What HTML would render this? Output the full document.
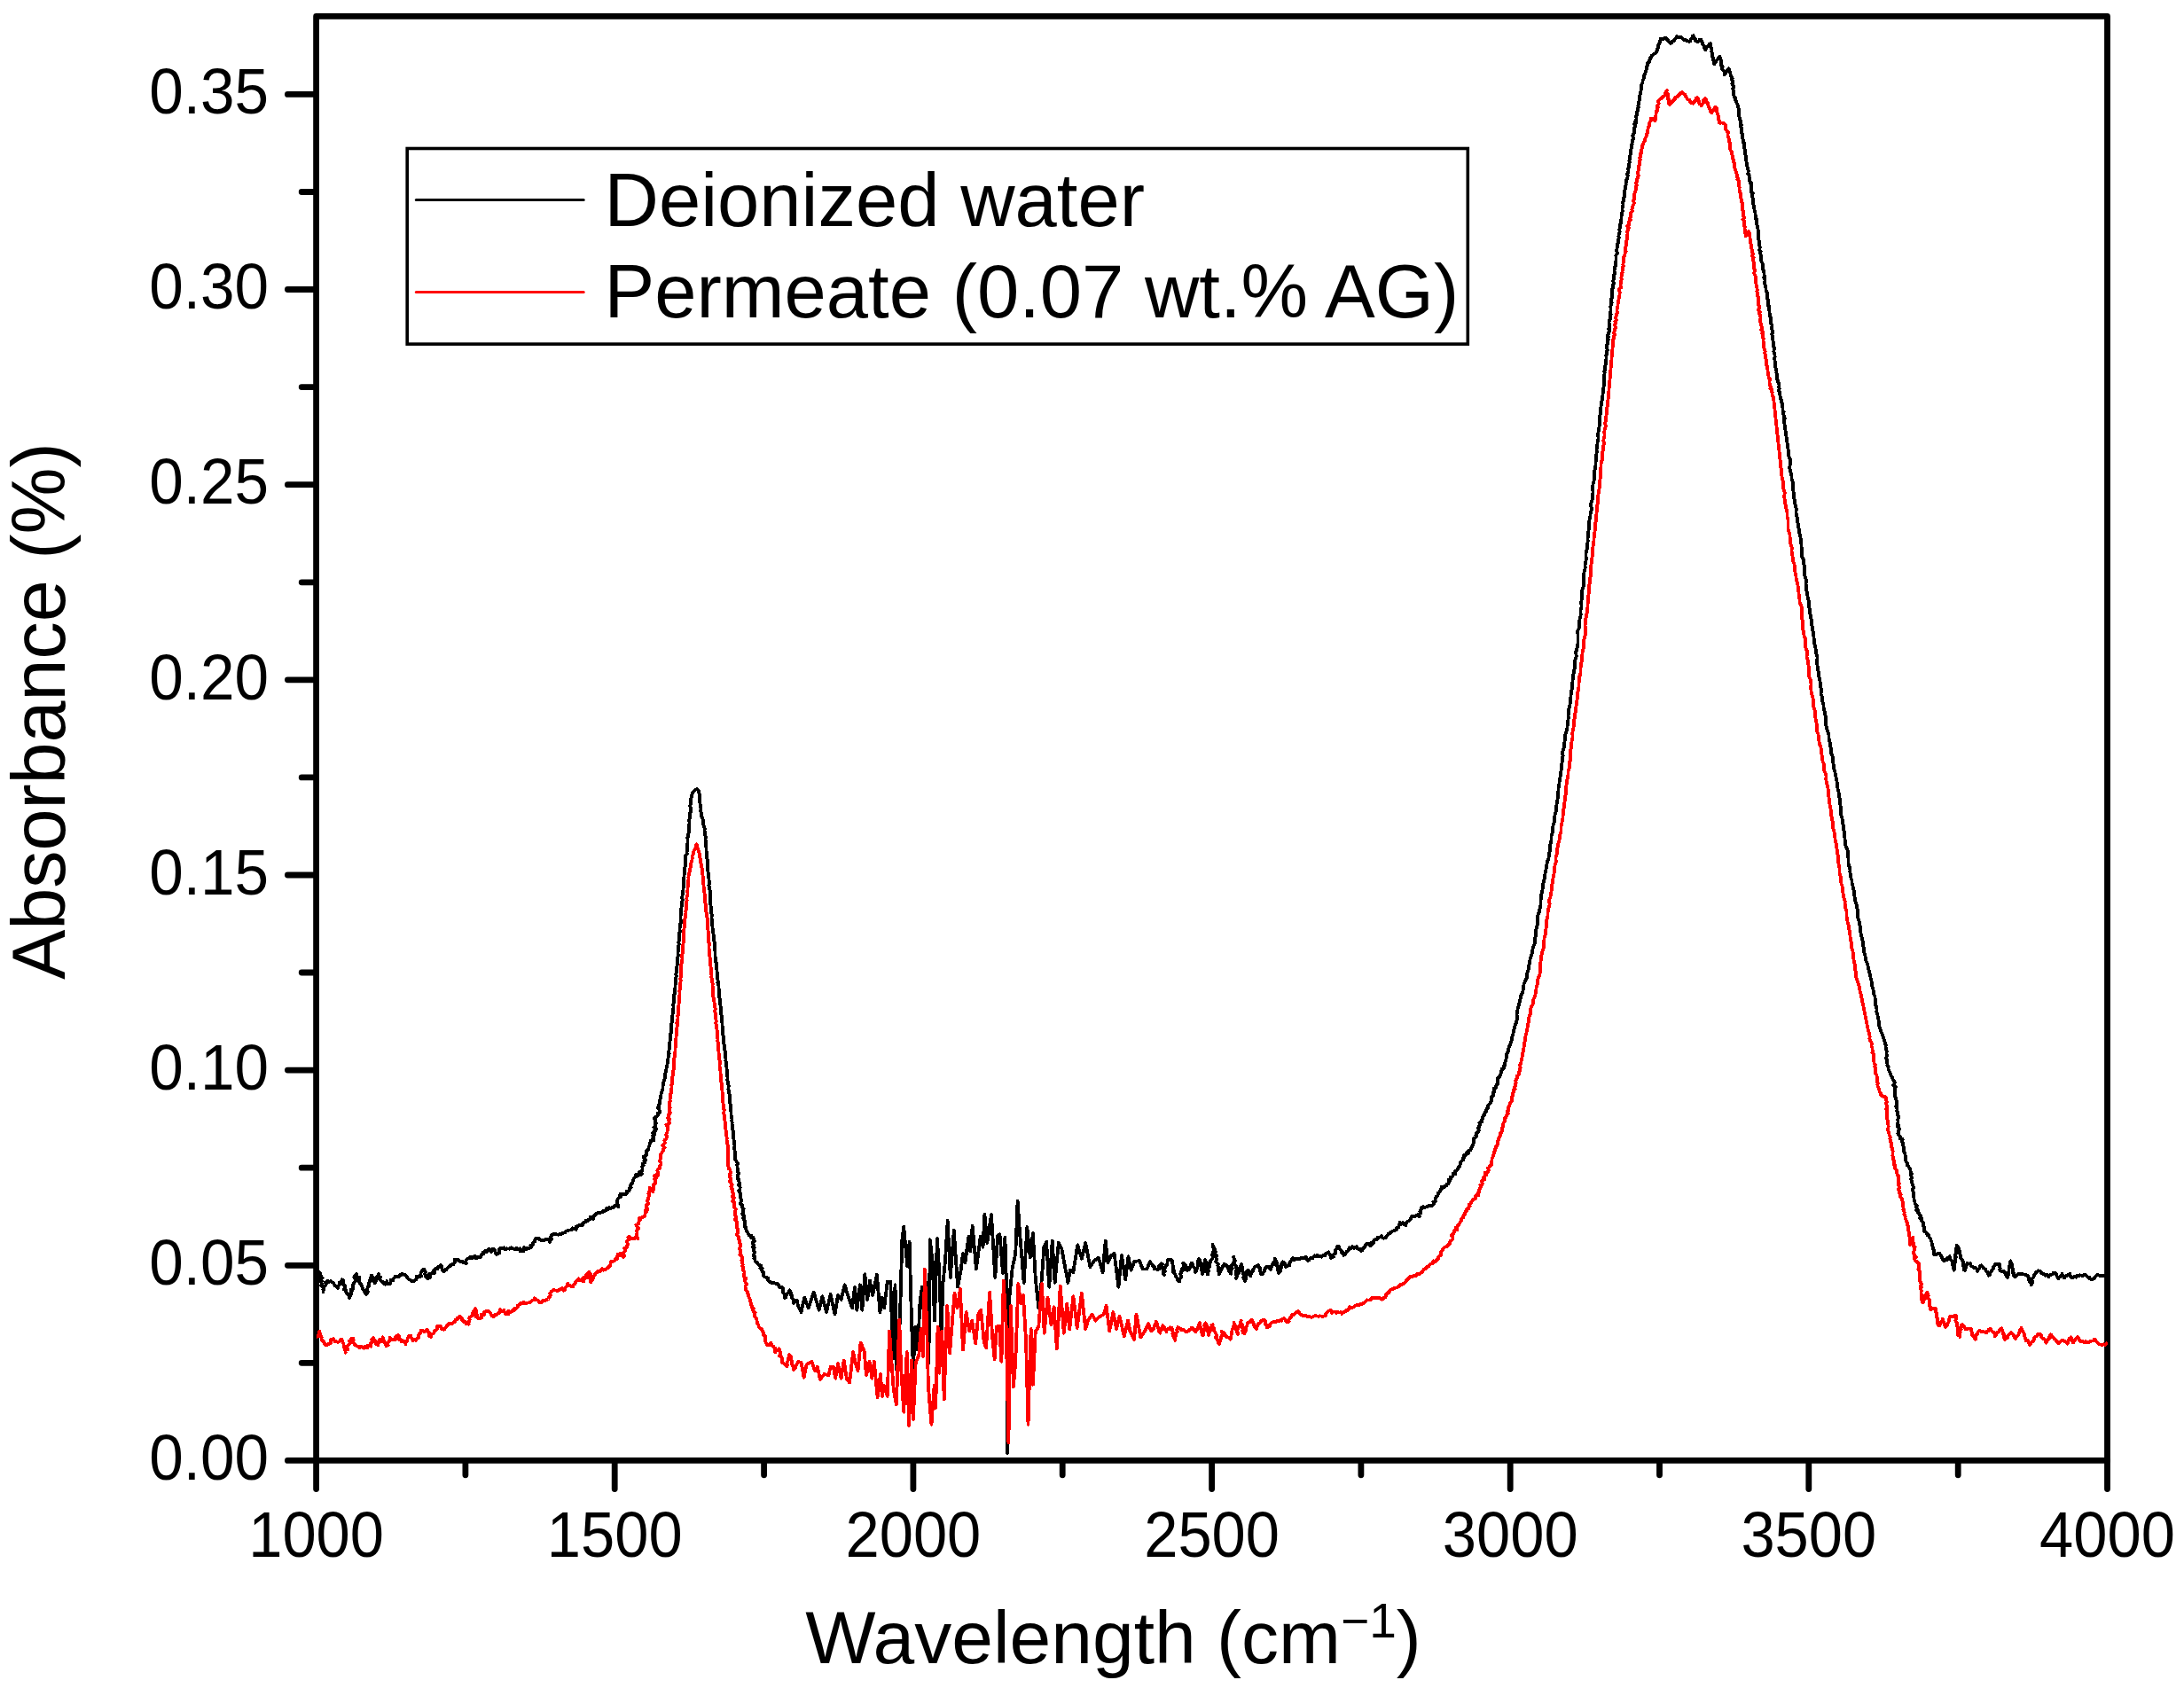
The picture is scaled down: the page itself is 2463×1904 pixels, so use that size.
<!DOCTYPE html>
<html lang="en">
<head>
<meta charset="utf-8">
<title>Absorbance vs Wavelength</title>
<style>
html,body{margin:0;padding:0;background:#fff;}
body{width:2463px;height:1904px;overflow:hidden;}
svg{display:block;}
text{font-family:'Liberation Sans', sans-serif;fill:#000;}
.tick{font-size:69.3px;}
.xtick{font-size:68.7px;}
.xt{font-size:84px;}
.yt{font-size:84.5px;}
.leg{font-size:85px;}
.ax{stroke:#000;stroke-width:6.8;fill:none;stroke-linejoin:round;}
.tk{stroke:#000;stroke-width:6.8;stroke-linecap:round;fill:none;}
.cb{stroke:#000;stroke-width:3.8;fill:none;stroke-linejoin:round;stroke-linecap:butt;shape-rendering:crispEdges;}
.cr{stroke:#ff0000;stroke-width:3.8;fill:none;stroke-linejoin:round;stroke-linecap:butt;shape-rendering:crispEdges;}
</style>
</head>
<body>
<svg width="2463" height="1904" viewBox="0 0 2463 1904">
<rect x="0" y="0" width="2463" height="1904" fill="#ffffff"/>
<rect class="ax" x="356.6" y="18.4" width="2019.9" height="1629.0"/>
<path class="tk" d="M356.6,1647.4H324.4M356.6,1537.3H340.2M356.6,1427.3H324.4M356.6,1317.2H340.2M356.6,1207.1H324.4M356.6,1097.0H340.2M356.6,987.0H324.4M356.6,876.9H340.2M356.6,766.8H324.4M356.6,656.8H340.2M356.6,546.7H324.4M356.6,436.6H340.2M356.6,326.5H324.4M356.6,216.5H340.2M356.6,106.4H324.4M356.6,1647.4V1679.6M524.9,1647.4V1663.8M693.2,1647.4V1679.6M861.6,1647.4V1663.8M1029.9,1647.4V1679.6M1198.2,1647.4V1663.8M1366.6,1647.4V1679.6M1534.9,1647.4V1663.8M1703.2,1647.4V1679.6M1871.5,1647.4V1663.8M2039.8,1647.4V1679.6M2208.2,1647.4V1663.8M2376.5,1647.4V1679.6"/>
<clipPath id="clip"><rect x="355.6" y="18.4" width="2022.5" height="1629.0"/></clipPath>
<g clip-path="url(#clip)">
<path class="cb" d="M358.4,1434.4 360.7,1435.5 360.9,1437.1 361.8,1438.6 360.4,1440.5 363.6,1441.5 360.4,1443.8 362.9,1444.9 362.3,1446.7 363.2,1448.1 362.0,1450.0 365.5,1450.9 364.3,1452.8 364.7,1454.4 364.6,1457.0 364.3,1454.2 365.6,1453.0 365.5,1451.2 366.8,1450.0 367.8,1448.6 366.8,1446.6 369.3,1445.7 369.2,1444.6 369.9,1444.7 371.2,1445.8 373.3,1445.2 374.5,1446.4 376.1,1447.0 376.8,1448.6 377.5,1450.2 379.4,1450.6 380.3,1451.9 381.1,1452.7 381.1,1451.5 381.8,1450.1 382.9,1448.8 382.5,1446.9 384.2,1445.8 386.0,1444.8 385.6,1443.3 385.9,1443.3 387.0,1444.6 387.5,1446.2 386.0,1448.4 387.9,1449.4 389.1,1450.7 389.0,1452.5 387.9,1454.6 390.1,1455.5 390.3,1457.1 391.1,1458.5 392.2,1459.8 393.5,1461.1 393.4,1462.8 393.6,1463.9 394.6,1462.7 395.3,1461.3 395.8,1459.7 395.7,1458.0 396.7,1456.6 395.7,1454.7 397.9,1453.7 397.8,1451.9 397.5,1450.2 398.7,1448.8 398.6,1447.2 400.1,1445.9 400.9,1444.5 402.0,1443.1 399.3,1440.7 399.8,1439.1 401.1,1437.8 401.9,1437.3 401.9,1439.0 403.0,1440.3 405.6,1440.9 404.8,1443.0 404.5,1444.9 405.6,1446.2 405.9,1447.8 407.4,1448.9 408.1,1450.3 408.5,1451.9 409.0,1453.4 409.9,1454.8 410.7,1456.2 412.0,1457.3 411.9,1459.2 413.0,1459.9 414.3,1458.6 414.8,1457.1 414.4,1455.3 414.3,1453.6 414.6,1452.0 415.9,1450.7 416.1,1449.1 416.1,1447.4 416.9,1446.0 416.8,1444.2 418.4,1443.0 417.8,1441.2 419.7,1440.1 419.1,1438.6 419.1,1439.8 421.1,1440.9 420.5,1442.8 420.6,1444.4 422.5,1445.5 422.4,1447.1 422.9,1446.9 422.3,1444.9 424.4,1444.0 425.4,1442.7 424.7,1440.6 426.3,1439.6 427.0,1437.3 427.4,1439.8 429.4,1440.6 427.9,1443.2 429.2,1444.3 430.3,1445.6 431.6,1445.8 432.8,1447.8 434.3,1448.6 436.3,1445.3 437.7,1448.2 439.8,1448.3 440.6,1446.1 440.8,1444.0 443.3,1444.3 443.8,1442.5 444.8,1441.1 445.9,1439.7 448.1,1440.5 449.7,1440.0 450.6,1438.2 452.5,1438.5 453.4,1436.5 455.2,1437.6 456.5,1437.9 457.8,1438.8 458.9,1439.9 459.5,1441.7 460.8,1442.7 462.1,1443.6 463.5,1444.4 464.8,1445.5 466.4,1445.3 467.6,1444.1 469.1,1443.5 469.9,1441.9 469.9,1439.6 473.2,1440.5 474.9,1439.6 474.3,1437.4 474.7,1435.8 475.5,1434.4 476.3,1433.0 477.2,1431.6 478.7,1432.0 478.8,1433.8 479.8,1435.2 479.3,1437.1 480.3,1438.4 480.2,1440.2 481.3,1441.4 482.4,1442.5 483.2,1440.6 485.6,1440.6 483.8,1437.0 485.7,1436.5 487.8,1436.1 490.0,1435.9 489.1,1433.0 490.5,1432.1 491.6,1430.9 493.7,1431.0 494.1,1428.9 495.8,1428.6 496.8,1427.1 498.5,1428.2 498.1,1430.3 498.8,1431.7 499.1,1433.6 500.9,1433.8 501.6,1432.4 503.5,1432.0 504.4,1430.6 505.6,1429.5 506.5,1428.2 508.4,1427.9 509.2,1426.3 511.3,1426.4 512.1,1424.8 513.0,1423.4 512.9,1420.8 515.4,1421.4 516.4,1421.0 517.6,1422.0 518.9,1422.9 520.9,1422.5 521.9,1424.2 523.7,1423.7 525.8,1425.2 525.4,1421.8 526.4,1420.5 527.7,1419.5 529.4,1419.0 530.5,1417.8 532.8,1419.3 534.0,1417.6 535.7,1416.9 536.9,1419.4 538.8,1418.1 539.9,1417.8 541.9,1418.3 542.6,1416.8 542.7,1415.0 545.0,1414.5 544.9,1412.6 546.7,1412.3 547.2,1411.0 548.9,1411.8 550.3,1410.3 551.7,1408.9 553.8,1412.0 555.0,1409.1 556.7,1409.2 558.1,1410.1 558.5,1411.8 558.8,1413.4 559.7,1414.9 561.2,1414.1 563.1,1413.6 562.9,1411.3 563.2,1409.4 564.6,1408.0 566.6,1408.2 568.3,1407.3 569.9,1409.5 571.5,1408.3 573.1,1408.5 574.7,1408.7 576.2,1407.3 577.9,1407.7 579.6,1408.9 581.2,1408.8 582.7,1407.7 583.7,1409.5 586.2,1408.4 586.4,1410.3 587.1,1411.6 586.7,1409.2 590.6,1411.4 590.8,1409.3 591.2,1407.2 593.4,1409.0 594.6,1408.0 596.2,1408.1 597.7,1407.4 598.9,1406.9 598.3,1404.8 600.9,1404.3 600.6,1402.4 601.8,1401.2 603.3,1400.2 603.3,1398.4 604.0,1397.2 605.5,1397.4 607.2,1396.7 608.6,1398.3 610.1,1399.2 611.8,1398.7 613.4,1399.0 615.2,1397.7 616.8,1398.1 618.5,1398.0 620.0,1400.7 620.4,1398.6 622.3,1397.5 620.9,1395.4 621.7,1394.0 622.7,1392.6 623.7,1392.4 625.0,1391.9 626.6,1392.3 628.2,1392.4 629.7,1392.8 631.2,1391.8 632.8,1392.1 634.1,1391.2 635.6,1390.6 637.3,1390.3 638.3,1388.7 639.9,1388.4 641.3,1387.5 643.0,1387.5 644.6,1387.3 645.7,1385.3 647.6,1386.1 649.6,1386.9 649.9,1383.4 651.4,1383.1 652.7,1382.1 654.4,1381.7 656.7,1382.2 657.2,1380.1 658.2,1378.7 660.1,1378.7 660.7,1376.8 662.9,1377.0 663.7,1375.4 665.6,1375.2 665.8,1372.8 668.9,1374.8 669.2,1372.3 670.5,1371.3 671.6,1369.9 672.9,1368.7 674.4,1368.2 676.2,1368.4 677.5,1367.5 679.3,1367.5 680.0,1365.8 682.1,1366.0 683.6,1365.4 684.1,1363.2 686.3,1363.8 687.2,1362.1 689.1,1363.0 690.5,1362.0 692.2,1362.2 693.3,1359.9 695.1,1360.3 697.4,1361.1 696.8,1358.6 695.9,1356.9 696.3,1355.3 696.1,1353.6 696.8,1352.1 698.6,1350.8 700.4,1349.6 699.2,1347.7 700.0,1346.4 701.4,1346.4 703.0,1346.9 704.5,1347.2 705.7,1346.8 707.0,1345.8 706.7,1343.7 709.2,1343.4 710.0,1342.0 710.1,1340.1 711.7,1339.2 711.1,1337.1 711.9,1335.7 713.2,1334.5 713.5,1332.9 714.0,1331.4 714.4,1329.8 715.2,1328.4 716.9,1327.7 717.0,1324.8 719.3,1326.1 720.6,1325.0 722.5,1325.2 723.7,1324.0 721.1,1321.7 724.4,1320.7 724.5,1319.1 724.5,1317.4 724.3,1315.8 725.8,1314.4 725.0,1312.6 727.2,1311.4 726.4,1309.6 728.2,1308.6 726.3,1306.2 726.1,1304.4 728.7,1303.7 729.4,1302.3 729.3,1300.5 728.6,1298.5 730.1,1297.3 731.5,1296.2 731.4,1294.4 732.1,1293.0 732.6,1291.4 732.7,1289.7 733.7,1288.4 733.7,1286.6 737.0,1286.4 735.9,1284.1 737.4,1283.0 736.3,1281.1 738.1,1279.7 735.9,1277.8 738.6,1276.6 738.0,1274.9 740.1,1273.5 737.2,1271.5 738.7,1270.1 739.1,1268.5 740.1,1267.0 738.8,1265.2 739.5,1263.7 737.7,1261.8 739.2,1260.3 740.8,1259.2 742.0,1257.9 741.4,1255.9 743.9,1255.2 744.2,1253.6 743.2,1251.5 741.8,1249.2 742.6,1250.0 743.0,1248.0 742.9,1246.0 744.2,1244.2 743.8,1242.0 744.4,1240.1 745.2,1238.2 745.1,1236.2 745.6,1234.2 746.0,1232.2 746.7,1230.4 747.6,1228.5 747.4,1226.4 747.5,1224.4 748.3,1222.5 748.4,1220.5 749.0,1218.5 749.6,1216.6 749.6,1214.5 750.1,1212.6 750.3,1210.6 750.9,1208.7 751.4,1206.7 751.5,1204.7 752.0,1202.8 752.4,1200.8 752.7,1198.8 753.0,1196.8 753.2,1194.8 753.7,1192.9 753.8,1190.9 754.7,1188.9 753.7,1186.8 754.5,1184.9 754.8,1182.9 755.2,1180.9 755.2,1178.9 755.1,1176.9 755.5,1174.9 755.8,1172.9 755.8,1170.9 756.3,1168.9 755.8,1166.9 756.9,1165.0 757.1,1163.0 756.8,1160.9 757.3,1159.0 757.3,1156.9 757.3,1154.9 757.7,1153.0 758.2,1151.0 758.0,1148.9 758.2,1146.9 758.5,1145.0 758.8,1143.0 759.2,1141.0 758.9,1139.0 759.4,1137.0 759.5,1135.0 759.1,1132.9 759.7,1131.0 759.9,1129.0 760.1,1127.0 760.4,1125.0 760.0,1122.9 760.7,1121.0 760.7,1119.0 760.7,1117.0 761.3,1115.0 761.6,1113.0 761.4,1111.0 762.0,1109.0 761.8,1107.0 762.1,1105.0 762.0,1103.0 762.9,1101.0 762.0,1098.9 762.8,1097.0 763.2,1095.0 762.7,1093.0 763.3,1091.0 763.5,1089.0 763.9,1087.0 764.2,1085.0 763.9,1083.0 763.8,1081.0 764.6,1079.0 764.7,1077.0 764.5,1075.0 764.8,1073.0 765.0,1071.0 765.2,1069.0 765.2,1067.0 765.7,1065.0 765.1,1063.0 765.9,1061.0 765.9,1059.0 765.9,1057.0 766.4,1055.0 765.7,1052.9 766.7,1051.0 766.6,1049.0 766.4,1047.0 767.0,1045.0 766.9,1043.0 767.8,1041.0 767.8,1039.0 767.6,1037.0 767.4,1035.0 767.6,1033.0 767.9,1031.0 768.0,1029.0 768.1,1027.0 768.3,1025.0 768.6,1023.0 768.7,1021.0 768.8,1019.0 768.9,1017.0 769.9,1015.0 769.1,1013.0 769.4,1011.0 769.9,1009.0 769.9,1007.0 770.3,1005.0 770.5,1003.0 770.8,1001.0 770.9,999.0 770.6,997.0 771.3,995.0 770.7,993.0 771.3,991.0 771.4,989.0 771.4,987.0 772.0,985.0 772.0,983.0 772.5,981.0 772.1,979.0 772.8,977.0 773.0,975.0 773.1,973.0 772.9,971.0 773.4,969.0 773.2,967.0 773.3,965.0 774.8,963.1 774.5,961.1 774.9,959.1 774.5,957.0 775.0,955.1 775.2,953.1 775.4,951.1 775.4,949.0 775.6,947.0 775.3,945.0 776.2,943.1 776.3,941.1 776.7,939.1 776.6,937.1 777.3,935.1 776.9,933.1 776.9,931.0 777.6,929.1 777.4,927.1 777.3,925.1 777.8,923.1 778.1,921.1 778.1,919.1 778.3,917.1 779.3,915.1 778.6,913.1 778.9,911.1 778.2,909.0 778.9,907.1 779.1,905.1 779.0,903.0 779.0,901.0 779.8,899.1 780.2,897.2 780.7,895.2 781.7,893.5 782.7,892.0 784.2,890.8 785.9,890.2 787.6,891.4 788.2,893.0 788.4,894.9 789.1,896.9 789.1,898.9 789.1,900.9 789.2,902.9 789.3,904.9 789.5,906.9 790.2,908.9 790.3,910.9 790.6,912.9 790.0,914.9 790.7,916.9 791.0,918.9 791.3,920.9 792.1,922.8 792.7,924.7 792.9,926.7 793.3,928.7 793.3,930.7 793.9,932.6 794.8,934.5 794.6,936.6 794.8,938.5 795.4,940.5 795.3,942.5 795.9,944.5 795.5,946.5 795.8,948.5 796.3,950.5 796.3,952.5 796.2,954.5 796.6,956.5 796.5,958.5 796.6,960.5 797.1,962.5 797.2,964.5 796.7,966.6 797.4,968.5 797.8,970.5 797.8,972.5 798.3,974.5 797.8,976.6 798.2,978.5 798.2,980.6 798.4,982.5 798.7,984.5 798.7,986.5 799.0,988.5 799.4,990.5 799.6,992.5 799.6,994.5 800.3,996.5 799.4,998.6 800.4,1000.5 800.1,1002.5 800.6,1004.5 800.9,1006.5 800.6,1008.5 800.8,1010.5 800.9,1012.5 800.9,1014.6 801.3,1016.5 801.2,1018.6 801.3,1020.6 801.7,1022.5 801.8,1024.5 801.8,1026.6 802.0,1028.6 802.2,1030.6 803.0,1032.5 802.5,1034.6 802.6,1036.6 802.9,1038.5 803.0,1040.6 802.8,1042.6 803.4,1044.5 803.5,1046.6 804.1,1048.5 804.3,1050.5 804.4,1052.5 804.7,1054.5 804.7,1056.5 805.1,1058.5 805.1,1060.5 805.6,1062.5 805.9,1064.5 805.8,1066.5 806.1,1068.5 806.2,1070.5 806.4,1072.5 806.5,1074.5 806.4,1076.5 806.5,1078.5 806.9,1080.5 807.3,1082.5 807.1,1084.5 808.0,1086.4 808.4,1088.4 808.0,1090.5 808.2,1092.5 808.5,1094.5 808.6,1096.5 809.3,1098.4 809.3,1100.4 808.9,1102.5 809.2,1104.5 809.8,1106.4 809.4,1108.5 810.3,1110.4 810.4,1112.4 810.4,1114.4 810.9,1116.4 811.0,1118.4 811.1,1120.4 811.3,1122.4 811.2,1124.4 811.5,1126.4 812.1,1128.4 812.2,1130.4 812.2,1132.4 812.5,1134.4 812.8,1136.4 812.7,1138.4 812.8,1140.4 813.4,1142.4 813.2,1144.4 814.0,1146.3 814.2,1148.3 813.8,1150.4 814.3,1152.4 814.5,1154.4 814.5,1156.4 814.8,1158.4 814.7,1160.4 815.4,1162.3 815.3,1164.4 814.6,1166.4 815.6,1168.4 816.3,1170.3 815.9,1172.4 816.1,1174.4 816.1,1176.4 816.7,1178.3 817.1,1180.3 816.8,1182.4 817.2,1184.3 818.0,1186.3 817.6,1188.3 818.0,1190.3 817.9,1192.3 818.5,1194.3 818.4,1196.3 818.8,1198.3 818.9,1200.3 819.2,1202.3 819.5,1204.3 819.6,1206.3 819.7,1208.3 819.9,1210.3 819.8,1212.3 820.3,1214.3 820.5,1216.3 820.3,1218.3 821.0,1220.2 821.1,1222.3 821.6,1224.2 821.6,1226.2 821.4,1228.3 821.9,1230.2 821.9,1232.3 822.7,1234.2 823.0,1236.2 822.7,1238.2 823.4,1240.2 822.6,1242.3 823.1,1244.2 823.9,1246.2 823.9,1248.2 824.2,1250.2 824.1,1252.2 824.4,1254.2 824.4,1256.2 824.5,1258.2 825.1,1260.2 825.5,1262.1 825.3,1264.2 825.7,1266.2 825.5,1268.2 826.1,1270.2 826.0,1272.2 826.3,1274.2 826.7,1276.1 826.9,1278.1 826.8,1280.2 826.6,1282.2 827.2,1284.2 827.6,1286.1 827.6,1288.2 828.0,1290.1 828.5,1292.1 828.2,1294.1 828.1,1296.2 828.7,1298.1 829.1,1300.1 829.1,1307.8 830.3,1309.3 830.7,1310.9 832.2,1312.4 831.3,1314.1 831.5,1315.7 831.5,1317.4 832.0,1318.9 831.8,1320.6 832.3,1322.2 833.0,1323.7 831.7,1325.5 831.8,1327.1 831.4,1328.8 832.8,1330.3 833.3,1331.9 833.5,1333.5 834.4,1335.0 832.8,1336.8 834.4,1338.3 834.7,1339.9 834.2,1341.6 833.2,1343.3 834.2,1344.8 835.3,1346.3 835.3,1348.0 834.6,1349.7 835.3,1351.2 836.0,1352.8 835.9,1354.4 835.4,1356.1 834.8,1357.9 837.2,1359.2 837.0,1360.8 837.4,1362.4 838.7,1363.9 837.9,1365.6 838.2,1367.2 837.0,1369.0 838.1,1370.5 839.3,1372.0 838.0,1373.8 838.9,1375.3 840.1,1376.8 839.5,1378.5 839.8,1380.1 840.2,1381.7 839.8,1383.4 841.6,1384.3 841.3,1386.1 841.5,1388.0 842.5,1389.3 843.3,1390.7 844.2,1392.0 844.9,1393.5 847.4,1393.8 847.2,1395.9 849.7,1396.1 849.9,1398.1 851.0,1399.7 849.1,1401.5 849.0,1403.1 850.1,1404.7 848.9,1406.4 850.7,1407.9 850.2,1409.5 850.3,1411.2 851.3,1412.7 850.3,1414.4 849.4,1416.1 851.5,1417.6 850.3,1419.3 851.4,1420.7 851.4,1422.8 853.2,1423.5 854.1,1424.8 855.1,1426.0 856.4,1427.1 858.4,1427.7 857.4,1430.1 859.7,1430.8 859.3,1432.8 859.6,1434.4 861.1,1435.5 861.0,1437.3 860.9,1439.1 862.5,1440.2 864.0,1441.1 866.1,1441.4 866.0,1443.6 866.8,1445.0 867.8,1446.1 869.3,1446.1 870.7,1447.2 872.5,1446.9 874.0,1447.4 875.4,1448.2 877.2,1448.3 878.3,1449.6 878.5,1451.9 880.3,1452.3 882.6,1452.2 882.8,1454.1 882.8,1455.8 882.7,1457.4 883.9,1458.8 884.7,1460.3 885.2,1461.8 884.8,1463.8 885.9,1463.7 886.2,1462.0 887.2,1460.7 887.9,1459.2 889.4,1458.2 889.4,1456.3 890.7,1455.4 890.6,1456.0 891.2,1457.4 892.5,1458.7 891.5,1460.7 893.3,1461.9 893.0,1463.7 894.2,1465.0 895.3,1466.4 894.4,1468.3 895.0,1469.9 896.3,1468.8 897.8,1468.1 898.8,1466.7 900.0,1473.0 903.6,1480.1 907.1,1463.5 911.8,1475.4 917.8,1457.6 923.7,1477.7 927.3,1462.3 932.0,1480.1 936.7,1460.0 941.5,1482.5 945.0,1461.1 948.6,1465.9 952.6,1449.3 956.9,1463.5 961.1,1475.4 964.0,1451.7 966.4,1477.7 969.9,1449.3 972.3,1477.7 975.4,1437.4 978.2,1465.9 981.0,1444.5 984.1,1461.1 988.9,1437.4 992.4,1480.1 994.8,1463.5 997.2,1475.4 1000.7,1445.7 1004.3,1445.7 1007.1,1532.2 1009.5,1449.3 1011.4,1546.4 1014.9,1489.6 1017.3,1399.5 1019.2,1383.4 1023.2,1428.0 1025.6,1400.7 1028.0,1489.6 1029.9,1544.1 1032.2,1496.7 1035.1,1522.7 1037.4,1470.6 1039.8,1451.7 1042.2,1489.6 1045.0,1446.9 1047.4,1537.0 1048.8,1398.3 1051.7,1423.2 1054.0,1489.6 1056.9,1397.2 1059.2,1432.7 1061.6,1503.8 1063.5,1446.9 1065.9,1423.2 1068.7,1377.0 1071.8,1441.0 1075.8,1387.7 1080.1,1451.7 1083.6,1432.7 1086.0,1413.7 1088.4,1424.4 1092.4,1394.8 1094.3,1411.4 1096.7,1382.9 1100.9,1431.5 1105.7,1394.8 1108.5,1406.6 1110.4,1369.9 1113.3,1401.9 1118.0,1369.9 1122.3,1441.0 1125.1,1393.6 1127.5,1392.4 1131.0,1436.3 1133.4,1396.0 1135.1,1451.7 1136.0,1638.9 1137.7,1470.6 1141.7,1430.3 1145.3,1413.7 1147.6,1354.5 1150.0,1390.0 1154.7,1446.9 1158.3,1384.1 1161.8,1418.5 1164.9,1391.2 1167.8,1442.2 1171.3,1475.4 1174.9,1442.2 1177.3,1406.6 1180.1,1400.7 1183.2,1451.7 1186.7,1399.5 1189.6,1446.9 1193.8,1401.9 1197.4,1409.0 1200.9,1428.0 1204.5,1446.9 1206.9,1432.7 1210.4,1435.1 1215.2,1404.3 1219.9,1419.7 1224.2,1401.9 1229.4,1429.1 1234.1,1422.0 1238.9,1418.5 1243.6,1435.1 1246.7,1399.5 1249.5,1424.4 1253.1,1416.1 1256.6,1413.7 1261.4,1451.7 1264.9,1416.1 1269.2,1443.4 1272.5,1417.3 1275.6,1432.7 1279.1,1423.2 1285.1,1422.0 1288.6,1431.5 1293.4,1431.5 1296.9,1423.2 1300.5,1428.3 1302.0,1429.1 1301.8,1431.6 1304.3,1431.4 1305.3,1432.5 1307.0,1431.6 1306.4,1429.3 1307.4,1428.1 1308.7,1427.0 1309.3,1425.3 1310.7,1425.9 1310.4,1427.7 1310.9,1429.3 1310.7,1431.0 1312.6,1432.2 1312.3,1433.9 1311.5,1435.8 1313.0,1438.1 1312.0,1435.0 1313.9,1433.9 1313.2,1432.0 1313.7,1430.5 1314.1,1428.9 1314.9,1427.5 1316.2,1426.2 1316.5,1424.6 1316.5,1422.9 1316.6,1421.2 1317.9,1420.7 1319.5,1420.6 1320.9,1421.2 1322.1,1421.8 1322.0,1423.5 1322.3,1425.1 1322.6,1426.7 1322.7,1428.3 1323.0,1429.8 1322.5,1431.6 1323.8,1433.0 1322.9,1434.8 1324.5,1436.1 1325.2,1437.4 1325.7,1438.9 1326.5,1440.3 1327.5,1441.6 1327.9,1443.3 1328.9,1444.6 1330.6,1445.4 1330.5,1443.5 1331.0,1441.9 1332.3,1440.6 1331.8,1438.8 1331.1,1437.0 1331.9,1435.5 1332.3,1434.0 1333.8,1432.7 1333.2,1430.9 1335.2,1429.7 1334.4,1427.9 1334.4,1426.2 1334.3,1424.5 1334.6,1424.7 1335.8,1425.6 1336.8,1426.9 1336.6,1428.7 1337.5,1430.1 1337.4,1431.9 1338.9,1433.0 1338.4,1431.9 1340.7,1432.3 1339.7,1430.1 1342.6,1429.7 1343.5,1428.4 1342.8,1426.2 1344.0,1424.5 1345.4,1426.2 1344.8,1428.4 1346.3,1429.4 1347.3,1430.7 1347.9,1432.2 1348.0,1435.0 1349.3,1432.9 1349.9,1431.4 1350.4,1429.8 1350.9,1428.3 1351.4,1426.8 1350.6,1424.9 1351.3,1423.5 1351.3,1421.8 1351.8,1420.2 1352.1,1420.1 1353.3,1421.1 1353.4,1422.7 1354.1,1424.2 1354.4,1425.7 1353.8,1427.5 1355.0,1428.9 1355.4,1430.5 1355.0,1432.2 1355.4,1433.7 1355.5,1435.4 1356.3,1436.9 1355.5,1435.3 1357.4,1434.0 1357.6,1432.5 1358.2,1430.9 1357.2,1429.1 1359.9,1428.0 1357.6,1425.9 1359.2,1424.6 1359.0,1422.9 1358.9,1421.2 1359.0,1421.8 1360.0,1423.1 1361.7,1424.5 1361.1,1426.2 1360.3,1428.0 1359.3,1429.8 1362.1,1430.9 1361.4,1432.7 1360.6,1434.4 1361.5,1435.9 1362.4,1437.3 1361.6,1437.4 1361.5,1436.1 1362.6,1434.7 1363.1,1433.1 1362.2,1431.3 1362.9,1429.8 1364.6,1428.5 1364.4,1426.8 1364.5,1425.2 1365.0,1423.7 1365.0,1422.1 1366.6,1420.7 1367.3,1419.2 1367.8,1417.6 1367.1,1415.9 1367.4,1414.3 1368.1,1412.8 1368.5,1411.2 1368.5,1409.6 1368.6,1408.0 1367.6,1406.2 1367.4,1404.0 1368.0,1405.8 1369.0,1407.2 1369.4,1408.7 1370.3,1410.1 1370.9,1411.6 1369.5,1413.6 1370.5,1415.1 1371.9,1416.4 1371.3,1418.2 1371.7,1419.7 1371.8,1421.3 1370.9,1423.1 1372.7,1424.4 1373.8,1425.8 1373.2,1427.6 1373.9,1429.1 1373.4,1430.8 1373.9,1432.3 1374.0,1433.9 1374.9,1435.4 1374.8,1437.2 1375.2,1435.3 1376.6,1434.2 1376.8,1432.5 1377.0,1430.8 1378.7,1429.9 1378.7,1428.0 1380.8,1427.3 1380.7,1425.7 1381.4,1426.3 1382.7,1427.2 1383.9,1428.3 1386.4,1428.5 1384.9,1431.2 1386.8,1432.2 1386.3,1434.1 1387.9,1435.2 1388.1,1436.7 1388.3,1435.5 1388.0,1433.8 1388.9,1432.3 1389.7,1430.9 1389.4,1429.2 1389.1,1427.5 1389.9,1426.0 1390.8,1424.5 1391.7,1423.1 1391.8,1421.5 1391.7,1419.8 1391.3,1417.9 1391.5,1418.9 1392.3,1420.4 1392.7,1422.0 1392.1,1423.7 1392.5,1425.2 1392.8,1426.8 1394.1,1428.3 1393.9,1429.9 1394.9,1431.4 1393.8,1433.1 1394.1,1434.7 1393.6,1436.4 1394.3,1437.9 1394.9,1439.5 1393.8,1442.1 1394.7,1439.9 1395.0,1438.4 1396.0,1437.0 1397.2,1435.8 1397.2,1434.0 1397.6,1432.5 1397.7,1430.8 1399.9,1429.9 1399.1,1427.9 1400.2,1425.9 1400.4,1428.2 1401.2,1429.7 1401.1,1431.4 1400.3,1433.1 1401.9,1434.5 1401.9,1436.1 1402.4,1437.6 1402.6,1439.2 1402.2,1440.9 1402.8,1442.5 1403.7,1443.9 1404.2,1445.1 1404.1,1444.6 1405.1,1443.2 1405.0,1441.5 1405.3,1439.9 1404.6,1438.1 1406.9,1437.0 1405.6,1435.0 1406.2,1433.5 1407.6,1432.6 1408.1,1434.3 1408.7,1435.8 1409.8,1437.1 1410.1,1438.7 1410.2,1439.2 1409.8,1437.6 1411.4,1436.5 1411.7,1434.9 1413.0,1433.7 1413.2,1432.0 1414.5,1430.8 1414.8,1429.3 1415.7,1428.4 1417.1,1428.2 1418.4,1427.4 1419.5,1427.2 1419.0,1429.1 1421.0,1430.2 1420.8,1431.9 1420.7,1433.6 1421.9,1434.9 1421.7,1436.6 1423.0,1437.6 1423.0,1437.2 1424.4,1436.2 1425.2,1434.8 1426.2,1433.5 1426.2,1431.7 1427.2,1430.4 1428.0,1429.2 1428.6,1428.8 1430.6,1428.6 1431.6,1429.9 1433.0,1431.8 1432.7,1429.0 1434.6,1428.3 1434.8,1426.5 1436.4,1425.6 1436.2,1423.6 1437.5,1422.5 1437.5,1419.9 1438.8,1421.7 1438.4,1423.5 1440.5,1424.6 1439.0,1426.6 1440.7,1427.9 1440.6,1429.5 1442.8,1430.7 1440.6,1432.8 1442.3,1434.1 1442.4,1435.7 1441.8,1435.9 1442.2,1434.8 1444.1,1433.7 1443.4,1431.8 1444.8,1430.6 1444.5,1428.8 1445.3,1427.4 1445.1,1425.7 1446.2,1424.3 1447.6,1424.0 1446.8,1423.3 1447.7,1424.5 1449.2,1425.4 1449.3,1427.3 1450.1,1428.8 1451.7,1428.3 1451.6,1427.7 1454.5,1427.4 1454.2,1425.4 1454.7,1423.9 1455.6,1422.6 1456.7,1421.3 1457.0,1420.0 1458.1,1419.3 1459.3,1421.2 1461.2,1420.2 1462.8,1419.9 1464.3,1420.1 1465.8,1419.8 1467.3,1419.1 1468.9,1418.7 1470.3,1419.2 1472.8,1417.6 1473.5,1419.9 1474.5,1421.8 1476.2,1421.6 1477.1,1419.9 1478.5,1419.1 1480.5,1419.2 1481.3,1417.5 1482.5,1416.4 1484.4,1417.1 1485.6,1415.8 1486.9,1417.0 1488.6,1417.1 1490.1,1417.7 1491.1,1416.4 1492.4,1415.6 1494.6,1415.9 1495.0,1413.6 1496.8,1413.5 1498.3,1412.3 1499.0,1414.2 1499.8,1415.7 1501.6,1416.4 1501.0,1418.9 1502.3,1418.6 1503.8,1417.6 1503.1,1415.5 1505.0,1414.6 1506.5,1413.5 1505.9,1411.5 1506.0,1409.8 1507.4,1408.6 1507.8,1407.1 1508.3,1405.5 1509.2,1405.7 1510.3,1407.0 1510.5,1408.7 1511.7,1409.9 1512.8,1411.0 1513.1,1412.9 1514.9,1413.2 1515.5,1415.9 1517.3,1414.1 1518.0,1412.7 1519.1,1411.5 1520.6,1410.7 1521.0,1409.0 1521.8,1407.3 1524.0,1408.4 1525.2,1406.3 1526.9,1408.1 1528.5,1407.0 1530.2,1406.1 1530.5,1408.6 1532.6,1408.7 1534.1,1409.3 1534.8,1410.9 1536.5,1410.1 1537.1,1408.5 1538.1,1407.3 1539.6,1406.4 1539.7,1404.5 1540.6,1403.3 1542.0,1403.3 1543.8,1403.2 1544.8,1404.7 1546.7,1404.8 1546.0,1402.0 1548.7,1402.1 1549.1,1400.4 1549.5,1398.7 1551.1,1397.9 1553.1,1398.0 1553.5,1395.8 1555.4,1395.7 1556.6,1395.1 1558.0,1394.0 1558.9,1395.8 1560.3,1396.7 1561.6,1396.3 1563.2,1395.8 1563.8,1394.2 1564.9,1393.0 1565.7,1391.5 1567.6,1391.2 1568.4,1389.6 1569.9,1389.0 1571.5,1388.4 1572.7,1388.2 1573.6,1387.4 1575.3,1386.5 1575.2,1384.6 1577.4,1384.1 1577.6,1382.3 1578.3,1380.8 1578.7,1378.7 1580.1,1381.0 1582.3,1379.2 1583.4,1381.1 1585.3,1382.4 1585.9,1380.0 1586.6,1378.5 1587.9,1377.5 1589.4,1376.6 1590.6,1375.5 1591.0,1374.0 1591.9,1372.3 1593.6,1372.2 1595.3,1372.4 1596.6,1371.1 1598.4,1371.4 1601.0,1372.3 1599.9,1369.4 1602.0,1368.6 1601.3,1366.5 1602.4,1365.2 1603.2,1363.8 1603.0,1361.8 1604.9,1361.3 1606.6,1362.0 1608.2,1361.4 1609.7,1361.2 1611.2,1359.9 1612.8,1360.1 1614.5,1360.1 1615.8,1359.1 1617.0,1357.9 1616.4,1355.7 1618.8,1355.2 1618.4,1353.1 1619.2,1351.7 1619.4,1350.0 1620.9,1349.0 1621.6,1347.6 1621.8,1345.8 1623.2,1344.8 1624.2,1343.5 1624.7,1341.9 1626.2,1341.0 1626.0,1338.8 1628.2,1339.2 1629.4,1337.9 1631.0,1337.7 1631.5,1336.0 1633.1,1335.4 1633.5,1333.9 1634.8,1332.6 1633.9,1330.6 1636.1,1329.8 1635.5,1327.6 1637.9,1327.4 1638.5,1325.8 1638.8,1324.0 1641.4,1324.1 1640.6,1321.4 1642.2,1320.6 1643.3,1319.4 1644.3,1318.1 1644.9,1316.6 1646.0,1315.4 1646.6,1313.9 1647.1,1312.3 1647.3,1310.6 1648.4,1309.4 1650.0,1308.4 1649.5,1306.3 1651.3,1305.5 1651.1,1303.3 1652.9,1302.7 1653.4,1301.1 1656.0,1301.1 1655.4,1298.5 1657.2,1298.0 1658.6,1296.9 1659.1,1295.4 1659.8,1293.9 1660.7,1292.5 1660.9,1290.9 1661.7,1289.5 1661.8,1287.8 1662.4,1286.3 1661.9,1284.4 1663.8,1283.4 1665.1,1282.2 1664.4,1280.2 1664.7,1278.6 1666.1,1277.4 1667.3,1276.1 1667.9,1274.7 1666.7,1272.5 1668.5,1271.5 1668.3,1269.7 1669.5,1268.4 1668.4,1266.3 1671.0,1265.5 1670.7,1263.7 1671.7,1262.4 1672.2,1260.8 1672.3,1259.1 1674.0,1258.1 1674.0,1256.4 1674.5,1254.9 1676.1,1253.8 1676.3,1252.1 1676.5,1250.5 1678.3,1249.5 1678.0,1247.6 1679.0,1246.3 1680.2,1245.1 1680.9,1243.6 1681.6,1242.1 1682.4,1240.7 1681.9,1238.8 1681.9,1237.1 1684.0,1236.2 1684.4,1234.6 1683.8,1232.7 1685.0,1231.4 1684.9,1229.7 1684.6,1227.9 1686.9,1227.0 1687.0,1225.3 1687.4,1223.8 1689.0,1222.7 1689.4,1221.2 1688.7,1219.1 1689.0,1217.5 1689.1,1215.8 1691.0,1214.8 1691.3,1213.3 1692.4,1212.0 1692.8,1210.4 1693.0,1208.7 1693.8,1207.3 1693.7,1205.5 1696.1,1204.8 1695.5,1202.8 1696.9,1201.6 1696.6,1199.8 1696.9,1200.0 1697.7,1197.6 1698.5,1195.2 1698.7,1192.7 1698.7,1190.1 1699.8,1187.7 1701.3,1185.5 1701.3,1182.9 1702.1,1180.5 1703.0,1178.2 1703.9,1175.8 1704.8,1173.5 1704.8,1170.9 1705.6,1168.5 1706.4,1166.1 1706.8,1163.6 1707.4,1161.2 1708.0,1158.7 1708.8,1156.3 1709.7,1154.0 1710.3,1151.5 1711.0,1149.1 1710.8,1146.5 1710.5,1143.9 1711.3,1141.5 1711.4,1139.0 1711.9,1136.5 1713.0,1134.2 1713.3,1131.7 1714.0,1129.3 1714.6,1126.8 1714.8,1124.3 1715.8,1122.0 1717.1,1119.7 1717.6,1117.2 1718.0,1114.8 1718.2,1112.2 1718.7,1109.7 1719.8,1107.4 1720.7,1105.1 1721.8,1102.7 1722.2,1100.2 1722.2,1097.7 1723.1,1095.3 1723.8,1092.9 1723.8,1090.3 1724.6,1087.9 1725.3,1085.5 1725.4,1082.9 1725.9,1080.5 1726.7,1078.1 1727.7,1075.7 1728.1,1073.2 1728.5,1070.7 1729.0,1068.3 1730.0,1065.9 1731.1,1063.6 1730.9,1061.0 1731.0,1058.4 1731.8,1056.0 1732.1,1053.5 1732.1,1051.0 1732.3,1048.5 1733.1,1046.0 1733.6,1043.6 1733.6,1041.0 1734.0,1038.6 1734.3,1036.1 1734.1,1033.5 1734.7,1031.0 1735.9,1028.7 1736.3,1026.2 1736.8,1023.7 1737.5,1021.3 1737.6,1018.8 1737.4,1016.2 1737.7,1013.7 1737.9,1011.2 1738.3,1008.7 1739.0,1006.3 1739.4,1003.8 1740.1,1001.4 1740.0,998.8 1740.3,996.3 1741.2,993.9 1741.6,991.4 1742.3,989.0 1742.3,986.4 1742.9,984.0 1743.4,981.5 1743.8,979.0 1744.2,976.6 1744.5,974.0 1745.1,971.6 1746.1,969.2 1746.7,966.8 1746.7,964.2 1747.4,961.8 1747.8,959.3 1747.8,956.8 1748.0,954.3 1748.6,951.8 1749.3,949.4 1749.5,946.9 1749.4,944.3 1749.9,941.8 1750.8,939.4 1751.1,936.9 1751.2,934.4 1751.4,931.9 1751.9,929.4 1752.8,927.0 1753.4,924.6 1753.0,922.0 1753.5,919.5 1754.2,917.1 1754.9,914.6 1755.4,912.2 1755.1,909.6 1755.6,907.1 1756.1,904.6 1756.4,902.2 1756.7,899.7 1757.0,897.2 1757.1,894.6 1757.4,892.1 1757.6,889.6 1757.8,887.1 1758.3,884.7 1758.6,882.2 1759.0,879.7 1759.4,877.2 1759.9,874.7 1760.2,872.2 1760.4,869.7 1760.8,867.2 1761.1,864.7 1761.3,862.2 1761.7,859.8 1761.7,857.2 1762.1,854.7 1762.7,852.3 1761.9,849.6 1762.5,847.2 1763.4,844.8 1763.8,842.3 1764.2,839.8 1764.3,837.3 1765.0,834.8 1765.2,832.3 1765.1,829.8 1765.7,827.3 1766.6,824.9 1767.2,822.4 1767.6,820.0 1767.7,817.4 1767.8,814.9 1768.3,812.5 1768.7,810.0 1768.6,807.4 1769.0,804.9 1769.4,802.5 1769.3,799.9 1769.8,797.4 1770.4,795.0 1770.9,792.5 1771.3,790.0 1771.3,787.5 1771.5,785.0 1771.8,782.5 1772.0,780.0 1772.8,777.5 1773.3,775.1 1773.2,772.5 1773.3,770.0 1773.6,767.5 1773.9,765.0 1774.0,762.5 1774.5,760.0 1775.1,757.6 1775.5,755.1 1776.1,752.6 1776.3,750.1 1776.1,747.6 1776.1,745.0 1776.8,742.6 1777.7,740.2 1777.4,737.6 1777.3,735.1 1778.2,732.6 1778.7,730.1 1779.2,727.7 1779.5,725.2 1779.5,722.7 1779.6,720.1 1779.5,717.6 1779.4,715.1 1779.1,712.5 1780.0,710.1 1781.1,707.7 1781.0,705.1 1781.3,702.6 1781.3,700.1 1781.7,697.6 1782.4,695.2 1782.7,692.7 1782.4,690.1 1782.6,687.6 1783.5,685.2 1783.5,682.6 1783.3,680.1 1783.5,677.6 1784.0,675.1 1784.1,672.6 1783.9,670.0 1784.0,667.5 1784.5,665.1 1785.3,662.6 1786.0,660.1 1786.3,657.7 1786.4,655.1 1785.9,652.6 1785.9,650.0 1786.2,647.5 1786.5,645.0 1787.4,642.6 1787.7,640.1 1787.5,637.6 1787.9,635.1 1788.5,632.6 1788.8,630.1 1788.6,627.6 1788.4,625.0 1788.8,622.5 1789.5,620.1 1789.9,617.6 1789.7,615.1 1790.4,612.6 1790.7,610.1 1790.5,607.6 1790.8,605.1 1790.9,602.5 1791.2,600.0 1791.6,597.6 1792.0,595.1 1792.3,592.6 1792.3,590.1 1792.3,587.5 1792.9,585.1 1793.4,582.6 1793.6,580.1 1794.0,577.6 1794.7,575.1 1794.8,572.6 1794.0,570.0 1794.2,567.5 1795.1,565.1 1795.9,562.6 1796.3,560.1 1796.2,557.6 1796.5,555.1 1796.3,552.6 1796.0,550.0 1796.3,547.5 1796.8,545.0 1797.6,542.6 1797.7,540.1 1797.8,537.5 1797.9,535.0 1798.0,532.5 1798.4,530.0 1799.1,527.6 1799.4,525.1 1799.4,522.6 1799.8,520.1 1800.1,517.6 1799.9,515.0 1800.4,512.6 1800.8,510.1 1800.6,507.5 1800.9,505.0 1801.3,502.5 1801.5,500.0 1801.7,497.5 1802.4,495.1 1802.4,492.5 1801.8,490.0 1802.5,487.5 1803.3,485.1 1803.4,482.5 1803.8,480.0 1803.7,477.5 1803.9,475.0 1803.8,472.5 1804.0,470.0 1804.7,467.5 1804.6,465.0 1804.7,462.5 1805.2,460.0 1805.7,457.5 1805.9,455.0 1806.4,452.5 1806.9,450.1 1809.4,429.4 1808.7,427.9 1809.1,426.4 1809.4,424.9 1809.0,423.4 1809.5,421.9 1809.7,420.4 1809.1,418.8 1810.4,417.5 1810.3,415.9 1810.0,414.4 1810.3,412.9 1810.8,411.5 1810.6,409.9 1810.8,408.4 1810.4,406.9 1811.4,405.5 1811.4,404.0 1811.6,402.5 1811.0,400.9 1812.4,399.5 1812.0,398.0 1811.9,396.5 1813.0,395.1 1812.3,393.5 1811.9,391.9 1812.5,390.5 1811.9,388.9 1813.4,387.6 1812.9,386.0 1813.0,384.5 1813.8,383.1 1812.9,381.5 1813.9,380.1 1813.0,378.5 1813.7,377.0 1813.6,375.5 1814.8,374.1 1815.0,372.6 1814.3,371.0 1814.9,369.6 1814.7,368.1 1815.1,366.6 1814.7,365.0 1814.5,363.5 1814.6,362.0 1815.6,360.6 1816.5,359.2 1815.8,357.6 1815.6,356.1 1816.7,354.7 1816.2,353.1 1816.3,351.6 1816.5,350.1 1816.5,348.6 1816.5,347.1 1816.2,345.6 1817.1,344.1 1817.0,342.6 1817.7,341.2 1817.2,339.6 1816.7,338.1 1817.6,336.6 1818.4,335.2 1817.7,333.6 1817.7,332.1 1817.7,330.6 1817.9,329.1 1818.3,327.7 1818.1,326.1 1819.3,324.7 1818.7,323.2 1819.0,321.7 1819.7,320.2 1819.9,318.8 1819.3,317.2 1819.7,315.7 1820.1,314.2 1819.9,312.7 1819.4,311.1 1820.6,309.8 1820.8,308.3 1820.8,306.8 1820.4,305.2 1820.9,303.8 1820.9,302.2 1821.2,300.8 1822.0,299.3 1822.3,297.9 1822.1,296.3 1822.2,294.8 1822.5,293.3 1822.4,291.8 1822.5,290.3 1822.4,288.8 1822.9,287.3 1823.9,286.0 1823.6,284.4 1823.3,282.9 1823.4,281.4 1823.4,279.8 1824.1,278.4 1824.3,276.9 1823.8,275.3 1824.7,274.0 1824.5,272.4 1825.5,271.0 1825.2,269.5 1826.0,268.1 1825.4,266.5 1825.6,265.0 1826.1,263.5 1826.6,262.1 1826.6,260.6 1826.1,259.0 1826.8,257.6 1826.9,256.1 1827.0,254.5 1827.1,253.0 1828.2,251.7 1827.6,250.1 1827.6,248.6 1828.4,247.2 1828.4,245.6 1828.5,244.1 1829.0,242.7 1829.1,241.2 1829.3,239.7 1829.7,238.2 1829.6,236.7 1829.5,235.2 1829.8,233.7 1830.0,232.2 1830.5,230.8 1830.2,229.2 1830.1,227.7 1831.1,226.3 1830.8,224.7 1830.8,223.2 1831.9,221.9 1831.7,220.3 1832.4,218.9 1832.2,217.4 1832.2,215.8 1832.4,214.3 1832.9,212.9 1833.2,211.4 1833.2,209.9 1833.6,208.5 1833.4,206.9 1834.2,205.5 1833.7,203.9 1834.5,202.5 1835.1,201.1 1835.5,199.6 1835.9,198.2 1834.8,196.5 1836.0,195.1 1836.4,193.7 1836.5,192.2 1835.9,190.6 1836.7,189.2 1837.5,187.8 1836.4,186.1 1837.4,184.7 1837.8,183.2 1837.3,181.7 1838.0,180.2 1837.6,178.7 1837.9,177.2 1838.1,175.7 1838.7,174.3 1838.8,172.8 1839.5,171.3 1838.9,169.7 1839.5,168.3 1840.1,166.9 1840.2,165.4 1839.7,163.8 1840.7,162.4 1840.5,160.9 1841.1,159.4 1841.3,157.9 1841.9,156.5 1841.7,155.0 1841.2,153.4 1841.6,151.9 1842.7,150.6 1842.6,149.0 1843.4,147.6 1843.3,146.1 1843.1,144.5 1844.1,143.2 1843.6,141.6 1843.3,140.0 1845.2,138.8 1843.9,137.1 1845.1,135.7 1845.5,134.3 1845.4,132.7 1845.0,131.1 1846.3,129.8 1845.5,128.2 1845.8,126.7 1846.5,125.3 1847.2,123.9 1847.2,122.4 1847.7,120.9 1847.4,119.4 1847.8,117.9 1847.6,116.4 1848.2,114.9 1848.8,113.5 1848.7,112.0 1849.3,110.5 1849.1,109.0 1849.3,107.5 1849.8,106.1 1850.0,104.6 1850.5,103.1 1850.6,101.6 1851.5,100.2 1851.0,98.6 1851.2,97.1 1851.1,95.6 1851.9,94.2 1852.5,92.8 1852.4,91.2 1853.1,89.9 1853.8,88.5 1853.9,87.0 1854.1,85.5 1855.1,84.2 1855.2,82.7 1855.7,81.3 1856.4,79.9 1856.8,78.4 1856.7,76.8 1857.0,75.4 1857.7,74.0 1858.2,72.6 1858.1,70.9 1859.9,70.0 1860.0,68.5 1860.9,67.2 1860.8,65.5 1862.2,64.6 1862.5,63.0 1863.9,62.3 1864.8,60.9 1866.3,60.4 1867.4,59.5 1868.2,58.3 1868.8,57.0 1869.1,55.5 1869.9,54.2 1869.8,52.6 1870.0,51.1 1870.8,49.7 1871.5,48.4 1872.2,47.0 1872.4,45.6 1872.5,43.7 1874.4,44.1 1875.9,44.1 1877.3,43.2 1878.7,43.0 1879.6,44.3 1880.9,45.2 1881.6,46.6 1882.9,47.4 1883.8,49.0 1885.1,48.3 1885.8,46.9 1887.3,46.2 1888.4,45.2 1889.1,43.7 1890.2,42.7 1891.0,40.9 1892.6,42.2 1894.1,42.2 1895.8,42.2 1897.1,42.9 1898.3,44.0 1899.5,45.0 1901.0,45.3 1902.2,46.2 1903.8,46.3 1904.8,46.9 1906.1,46.3 1906.7,44.9 1907.3,43.5 1908.5,42.5 1908.6,40.7 1909.7,40.1 1910.1,41.8 1910.5,43.2 1911.9,44.2 1912.1,45.8 1913.7,46.5 1914.5,47.1 1915.7,46.1 1916.7,44.8 1918.2,44.6 1918.5,45.9 1919.4,47.1 1919.9,48.5 1919.9,50.2 1921.4,51.2 1922.0,52.6 1922.2,54.1 1922.9,55.3 1923.6,56.1 1924.3,54.6 1924.9,53.1 1925.9,52.0 1927.9,51.7 1927.8,49.6 1928.9,48.9 1928.9,50.7 1929.1,52.2 1929.5,53.6 1930.2,55.0 1930.6,56.5 1930.2,58.1 1930.7,59.5 1931.6,60.9 1930.8,62.6 1931.2,64.0 1931.9,65.4 1932.2,66.9 1932.3,68.4 1932.9,69.8 1933.4,71.2 1933.3,72.5 1933.6,70.8 1935.1,69.9 1935.3,68.3 1936.6,67.3 1937.4,66.1 1938.9,65.2 1939.2,63.4 1940.0,65.0 1940.2,66.6 1940.8,68.0 1941.0,69.5 1941.0,71.0 1941.3,72.5 1941.3,74.1 1942.7,75.2 1941.8,77.1 1942.5,78.4 1943.7,79.6 1944.9,80.8 1944.5,82.5 1944.8,84.0 1944.8,82.9 1946.3,82.2 1947.0,80.9 1947.6,79.4 1948.8,78.4 1949.4,77.4 1950.0,78.3 1950.2,79.9 1951.0,81.2 1951.4,82.6 1951.5,84.2 1951.8,85.6 1952.6,87.0 1953.7,88.2 1953.1,90.0 1954.4,91.2 1953.9,92.8 1953.4,94.4 1954.2,95.8 1954.8,97.3 1955.0,98.8 1954.1,100.3 1954.7,101.8 1954.6,103.3 1954.6,104.8 1955.1,106.3 1955.3,107.8 1955.7,109.2 1957.0,110.1 1957.1,111.7 1957.3,113.3 1958.0,114.7 1958.4,116.1 1959.3,117.4 1959.8,118.8 1959.7,120.3 1960.6,121.7 1960.6,123.2 1961.4,124.6 1960.6,126.2 1961.2,127.7 1961.2,129.2 1961.0,130.7 1961.4,132.2 1962.1,133.6 1962.0,135.1 1963.1,136.5 1962.6,138.1 1962.9,139.6 1963.8,140.9 1962.9,142.6 1963.9,144.0 1963.6,145.5 1964.2,147.0 1963.9,148.5 1964.0,150.0 1965.1,151.4 1965.6,152.8 1965.2,154.4 1965.1,155.9 1965.8,157.4 1966.1,158.8 1965.9,160.4 1967.4,161.7 1966.8,163.3 1967.3,164.7 1966.8,166.3 1967.5,167.7 1967.9,169.2 1967.8,170.7 1968.4,172.2 1968.1,173.7 1968.6,175.2 1968.7,176.7 1969.0,178.1 1968.7,179.7 1969.4,181.1 1969.4,182.7 1969.7,184.1 1970.5,185.5 1970.2,187.1 1970.6,188.5 1970.9,190.0 1971.4,191.4 1971.7,192.9 1971.5,194.5 1971.3,196.1 1972.7,197.3 1972.5,198.9 1973.1,200.3 1972.9,201.9 1973.3,203.3 1973.3,204.8 1975.1,206.1 1974.4,207.7 1974.8,209.2 1974.7,210.7 1975.1,212.2 1975.3,213.6 1975.0,215.2 1974.7,216.8 1976.8,218.0 1976.0,219.6 1976.0,221.1 1976.3,222.6 1976.7,224.1 1977.3,225.5 1977.4,227.0 1976.9,228.6 1977.0,230.1 1977.6,231.5 1978.3,232.9 1978.2,234.5 1978.6,235.9 1978.5,237.5 1979.0,238.9 1979.6,240.3 1979.5,241.9 1980.3,243.2 1979.8,244.9 1980.0,246.4 1981.2,247.7 1980.8,249.3 1981.6,250.6 1981.1,252.3 1981.5,253.7 1982.1,255.1 1981.8,256.7 1982.5,258.1 1982.7,259.6 1982.9,261.1 1982.8,262.6 1983.1,264.1 1983.0,265.6 1983.5,267.1 1983.1,268.6 1983.1,270.1 1983.9,271.6 1984.4,273.0 1983.7,274.6 1983.7,276.1 1984.4,277.6 1984.9,279.0 1984.5,280.6 1984.1,282.1 1985.6,283.5 1984.9,285.1 1985.5,286.5 1985.9,288.0 1985.6,289.5 1986.6,290.9 1986.2,292.5 1986.0,294.0 1986.7,295.4 1987.4,296.8 1988.0,298.3 1988.1,299.8 1988.5,301.2 1987.4,302.9 1988.4,304.3 1989.0,305.7 1989.3,307.2 1989.5,308.7 1989.4,310.2 1990.0,311.6 1989.1,313.3 1990.3,314.7 1990.5,316.1 1990.3,317.7 1990.1,319.2 1990.3,320.7 1991.3,322.1 1991.2,323.6 1991.5,325.1 1991.5,326.6 1991.9,328.1 1992.6,329.5 1992.9,331.0 1992.6,332.5 1993.3,333.9 1992.5,335.6 1993.3,337.0 1993.9,338.4 1993.9,339.9 1994.2,341.4 1994.3,342.9 1994.0,344.5 1995.2,345.8 1995.6,347.3 1995.0,348.9 1995.4,350.3 1995.5,351.9 1995.6,353.4 1996.1,354.8 1995.9,356.4 1996.8,357.7 1996.6,359.3 1997.2,360.7 1997.5,362.2 1997.1,363.8 1997.3,365.3 1998.5,366.6 1998.4,368.1 1998.1,369.7 1998.0,371.2 1998.8,372.6 1998.8,374.2 1999.4,375.6 1998.0,377.2 1998.9,378.7 1998.9,380.2 1999.2,381.7 1999.2,383.2 1999.5,384.6 2000.0,386.1 1999.7,387.6 2000.1,389.1 1999.8,390.7 2000.8,392.1 2000.8,393.6 2000.5,395.1 2000.4,396.6 2001.0,398.1 2001.5,399.5 2001.4,401.1 2001.7,402.5 2000.9,404.1 2001.5,405.6 2001.5,407.1 2002.0,408.6 2002.5,410.0 2002.0,411.6 2001.9,413.1 2002.5,414.6 2002.9,416.0 2002.7,417.6 2003.5,419.0 2003.3,420.5 2004.1,421.9 2004.4,423.4 2004.1,425.0 2004.4,426.4 2004.0,428.0 2005.1,429.4 2005.2,430.9 2005.8,432.3 2006.4,433.7 2006.5,435.2 2005.9,436.8 2006.7,438.2 2006.1,439.8 2006.2,441.4 2007.1,442.7 2006.5,444.4 2007.4,445.7 2007.4,447.3 2008.2,448.6 2008.1,450.2 2009.2,451.5 2008.9,453.1 2009.6,454.5 2009.8,456.0 2009.9,457.5 2010.3,458.9 2010.6,460.4 2010.5,461.9 2010.7,463.4 2011.7,464.8 2011.2,466.4 2011.4,467.9 2012.1,469.3 2011.9,470.8 2012.8,472.2 2011.9,473.9 2017.3,511.6 2017.3,514.1 2018.1,516.6 2019.1,519.0 2019.4,521.5 2018.8,524.1 2018.2,526.7 2018.5,529.2 2019.1,531.6 2019.7,534.1 2020.5,536.5 2020.5,539.0 2020.8,541.5 2021.8,543.9 2021.9,546.5 2022.3,548.9 2022.3,551.5 2022.4,554.0 2023.0,556.4 2023.3,558.9 2023.2,561.5 2023.7,564.0 2024.3,566.4 2024.4,568.9 2025.1,571.4 2025.7,573.8 2025.6,576.4 2025.5,578.9 2026.0,581.4 2026.8,583.8 2026.9,586.3 2027.2,588.8 2027.9,591.3 2028.1,593.8 2028.5,596.2 2029.1,598.7 2029.3,601.2 2029.9,603.7 2030.5,606.1 2030.7,608.6 2031.1,611.1 2031.4,613.6 2031.5,616.1 2031.8,618.6 2032.2,621.1 2032.4,623.6 2032.2,626.1 2032.4,628.6 2033.9,631.0 2034.2,633.5 2034.2,636.0 2035.2,638.4 2035.1,641.0 2035.3,643.5 2035.2,646.0 2035.0,648.6 2035.9,651.0 2036.8,653.4 2036.8,655.9 2036.5,658.5 2036.8,661.0 2037.0,663.5 2037.2,666.0 2037.8,668.5 2038.3,670.9 2038.7,673.4 2039.1,675.9 2040.0,678.3 2039.7,680.9 2039.6,683.4 2040.6,685.8 2040.6,688.3 2041.0,690.8 2041.6,693.3 2041.9,695.8 2042.6,698.2 2042.7,700.7 2042.7,703.3 2043.6,705.7 2043.9,708.2 2044.0,710.7 2044.8,713.1 2045.3,715.6 2045.4,718.1 2045.7,720.6 2046.0,723.1 2046.2,725.6 2046.9,728.0 2047.4,730.5 2047.7,733.0 2047.9,735.5 2048.4,738.0 2049.4,740.4 2049.5,742.9 2048.7,745.5 2048.6,748.1 2049.6,750.5 2049.6,753.0 2050.0,755.5 2051.0,757.9 2051.1,760.4 2051.3,762.9 2051.8,765.4 2052.4,767.8 2052.7,770.3 2052.7,772.9 2053.4,775.3 2054.2,777.7 2053.9,780.3 2053.5,782.9 2054.6,785.3 2055.5,787.7 2055.0,790.3 2055.6,792.7 2056.5,795.1 2056.5,797.7 2056.9,800.2 2057.7,802.6 2058.1,805.0 2058.6,807.5 2059.4,809.9 2059.2,812.5 2058.6,815.1 2059.2,817.6 2060.0,820.0 2060.4,822.5 2060.9,824.9 2061.9,827.3 2062.6,829.7 2062.5,832.3 2062.8,834.8 2063.7,837.2 2064.4,839.6 2064.3,842.2 2064.8,844.6 2065.2,847.1 2065.2,849.7 2066.2,852.1 2066.8,854.5 2067.0,857.0 2067.3,859.5 2067.6,862.0 2067.8,864.5 2068.0,867.0 2068.9,869.4 2069.6,871.8 2070.1,874.3 2070.6,876.8 2070.8,879.3 2071.6,881.7 2072.1,884.2 2071.9,886.7 2072.4,889.2 2073.1,891.6 2073.6,894.1 2073.9,896.6 2074.2,899.1 2075.0,901.5 2075.4,904.0 2075.1,906.6 2075.6,909.0 2076.3,911.5 2076.3,914.0 2075.8,916.6 2076.2,919.1 2077.0,921.5 2077.6,924.0 2077.9,926.5 2078.1,929.0 2078.9,931.4 2079.4,933.9 2079.3,936.4 2079.9,938.8 2080.4,941.3 2080.3,943.9 2080.5,946.4 2081.2,948.8 2081.3,951.3 2081.4,953.9 2082.4,956.2 2083.5,958.6 2083.9,961.1 2083.7,963.7 2084.1,966.1 2084.5,968.6 2084.4,971.2 2084.6,973.7 2085.0,976.2 2085.9,978.6 2086.6,981.0 2086.3,983.6 2086.9,986.0 2087.1,988.5 2087.6,991.0 2088.6,993.4 2088.4,996.0 2089.2,998.4 2089.8,1000.8 2090.1,1003.3 2091.0,1005.7 2091.2,1008.2 2091.3,1010.7 2091.7,1013.2 2092.2,1015.7 2092.8,1018.1 2093.6,1020.6 2093.9,1023.0 2094.7,1025.5 2095.0,1027.9 2094.8,1030.5 2095.1,1033.0 2095.2,1035.6 2096.3,1037.9 2097.0,1040.4 2097.2,1042.9 2097.9,1045.3 2097.9,1047.8 2098.1,1050.3 2098.6,1052.8 2099.1,1055.3 2099.6,1057.7 2100.3,1060.2 2100.9,1062.6 2100.9,1065.2 2101.4,1067.6 2102.1,1070.0 2102.1,1072.6 2102.4,1075.1 2103.3,1077.5 2103.8,1079.9 2103.9,1082.5 2104.8,1084.8 2106.1,1087.1 2106.5,1089.6 2106.9,1092.1 2107.6,1094.5 2108.2,1096.9 2108.9,1099.3 2109.4,1101.8 2109.8,1104.3 2110.6,1106.7 2111.0,1109.2 2111.1,1111.7 2111.9,1114.1 2112.6,1116.5 2112.6,1119.1 2113.4,1121.5 2114.4,1123.9 2114.6,1126.4 2114.8,1128.9 2115.0,1131.4 2115.3,1133.9 2116.3,1136.3 2116.5,1138.8 2116.2,1141.4 2117.1,1143.8 2117.7,1146.2 2118.0,1148.7 2118.7,1151.2 2119.1,1153.6 2119.0,1156.2 2125.8,1176.1 2126.2,1177.6 2126.8,1179.2 2126.4,1180.8 2126.8,1182.4 2127.1,1184.0 2127.8,1185.5 2127.5,1187.2 2127.5,1188.8 2127.9,1190.4 2127.5,1192.0 2127.2,1193.7 2128.1,1195.2 2128.1,1196.8 2127.7,1198.5 2128.6,1200.0 2128.2,1201.6 2129.7,1203.1 2129.5,1204.7 2129.5,1206.4 2130.4,1207.8 2131.3,1209.2 2131.5,1210.8 2132.4,1212.2 2132.9,1213.7 2133.9,1215.0 2134.3,1216.6 2134.9,1218.1 2135.9,1219.5 2137.0,1220.9 2136.2,1222.7 2135.1,1224.4 2137.8,1225.7 2137.2,1227.4 2137.0,1229.0 2137.0,1230.7 2136.7,1232.3 2137.0,1233.9 2137.1,1235.5 2137.2,1237.1 2138.4,1238.6 2138.3,1240.2 2138.7,1241.8 2138.5,1243.4 2139.1,1245.0 2139.4,1246.5 2138.1,1248.2 2139.3,1249.8 2139.6,1251.4 2139.0,1253.0 2140.1,1254.5 2139.9,1256.2 2140.1,1257.8 2140.8,1259.3 2141.3,1260.9 2140.1,1262.6 2140.5,1264.2 2140.6,1265.8 2140.0,1267.4 2140.9,1269.0 2139.7,1270.6 2141.5,1272.1 2142.2,1273.7 2141.0,1275.4 2140.8,1277.0 2140.3,1278.6 2141.5,1280.1 2142.3,1281.4 2143.1,1282.7 2143.0,1284.7 2145.7,1285.1 2145.0,1287.0 2145.5,1288.6 2146.3,1290.0 2146.3,1291.7 2146.4,1293.3 2147.2,1294.8 2147.1,1296.4 2147.1,1298.1 2147.4,1299.6 2148.3,1301.1 2148.5,1302.7 2148.7,1304.3 2148.7,1305.9 2149.3,1307.4 2149.1,1309.1 2149.8,1310.6 2151.2,1311.9 2150.4,1313.9 2152.0,1314.7 2152.5,1316.4 2153.7,1317.5 2153.9,1319.0 2154.6,1320.5 2154.7,1322.1 2155.9,1323.6 2154.6,1325.4 2155.5,1326.9 2155.9,1328.4 2155.3,1330.1 2155.9,1331.7 2156.3,1333.2 2156.4,1334.8 2156.8,1336.4 2157.6,1337.9 2157.9,1339.5 2157.0,1341.2 2157.2,1342.8 2157.6,1344.4 2158.0,1345.9 2157.8,1347.6 2158.0,1349.2 2158.5,1350.7 2158.5,1352.4 2158.7,1353.9 2159.6,1355.4 2159.4,1357.1 2160.7,1358.4 2161.8,1359.7 2160.9,1361.7 2161.9,1363.1 2161.3,1365.0 2163.4,1365.9 2163.1,1367.8 2164.4,1369.0 2164.8,1370.5 2166.2,1371.6 2165.3,1373.9 2167.2,1374.7 2166.6,1376.6 2168.0,1377.8 2169.0,1379.2 2169.1,1380.9 2168.5,1382.7 2169.8,1384.0 2169.9,1385.6 2169.6,1387.3 2170.2,1388.9 2171.9,1389.7 2172.8,1391.1 2173.3,1392.9 2175.2,1393.3 2175.4,1395.0 2176.3,1396.3 2177.5,1397.5 2177.4,1399.3 2178.4,1400.6 2178.6,1402.3 2179.6,1403.6 2179.2,1405.4 2179.8,1406.9 2179.7,1408.6 2181.0,1409.9 2180.8,1411.6 2180.6,1413.3 2180.9,1415.1 2182.5,1415.6 2184.1,1414.9 2185.2,1413.5 2186.9,1413.5 2187.6,1414.1 2188.5,1415.4 2189.0,1416.9 2190.2,1418.1 2190.4,1419.8 2191.6,1421.0 2192.3,1422.1 2193.1,1421.0 2195.2,1421.2 2195.9,1419.3 2197.3,1418.5 2198.8,1417.3 2198.7,1419.3 2199.1,1420.6 2200.8,1421.8 2201.7,1423.2 2201.7,1424.9 2202.0,1426.5 2202.4,1428.0 2202.4,1429.7 2203.5,1431.1 2203.5,1432.7 2203.9,1432.1 2204.1,1430.4 2204.2,1428.9 2204.0,1427.2 2204.3,1425.6 2205.0,1424.1 2204.1,1422.4 2205.5,1420.9 2205.0,1419.2 2205.8,1417.7 2204.7,1416.0 2205.9,1414.5 2205.6,1412.9 2206.6,1411.4 2206.2,1409.7 2206.0,1408.1 2207.1,1406.6 2206.6,1404.6 2207.9,1405.8 2208.5,1407.3 2209.0,1408.9 2209.6,1410.4 2210.1,1411.9 2210.0,1413.7 2210.5,1415.1 2210.9,1416.7 2210.9,1418.3 2212.0,1419.7 2212.7,1421.2 2213.7,1422.6 2213.7,1424.2 2213.9,1425.8 2213.7,1427.5 2215.1,1428.8 2214.4,1430.7 2214.8,1432.3 2215.9,1432.7 2216.4,1431.2 2217.1,1429.8 2217.2,1428.1 2217.6,1426.5 2218.5,1425.0 2219.8,1425.7 2221.8,1425.2 2222.5,1427.3 2223.7,1428.5 2225.1,1429.0 2226.0,1430.3 2228.3,1430.3 2229.3,1431.6 2230.0,1433.9 2231.0,1432.0 2232.2,1430.9 2232.6,1429.2 2233.5,1428.0 2234.6,1427.4 2235.8,1428.7 2236.6,1430.2 2238.1,1430.9 2239.4,1431.9 2239.7,1433.5 2241.1,1434.7 2242.1,1436.0 2242.3,1437.6 2242.5,1438.8 2244.0,1437.9 2243.7,1435.9 2245.2,1434.9 2245.9,1433.5 2246.8,1432.1 2247.9,1430.9 2248.0,1429.1 2249.2,1428.1 2249.7,1426.3 2251.6,1426.4 2252.8,1425.4 2254.1,1425.5 2255.4,1426.8 2255.0,1428.7 2255.7,1430.2 2255.2,1432.1 2255.9,1433.7 2257.7,1433.7 2259.1,1434.0 2260.1,1433.9 2260.9,1435.4 2262.1,1436.6 2262.3,1438.2 2262.7,1439.8 2263.7,1440.9 2264.3,1440.3 2264.3,1438.7 2265.4,1437.2 2265.3,1435.6 2265.4,1434.0 2265.5,1432.4 2265.6,1430.7 2266.5,1429.3 2266.1,1427.6 2267.0,1426.1 2266.9,1424.4 2267.3,1422.9 2267.5,1422.4 2267.5,1423.0 2267.8,1424.6 2268.7,1426.0 2268.9,1427.6 2269.1,1429.2 2269.9,1430.7 2270.3,1432.2 2270.1,1433.9 2269.9,1435.6 2271.4,1436.9 2271.1,1438.6 2271.7,1439.9 2273.0,1439.7 2274.3,1438.8 2275.3,1437.3 2276.8,1436.5 2278.5,1437.1 2280.1,1437.1 2281.7,1437.4 2283.2,1437.7 2284.8,1438.0 2285.9,1438.8 2287.1,1439.0 2287.7,1440.5 2288.3,1442.0 2287.9,1443.8 2288.6,1445.3 2289.9,1446.5 2290.5,1448.0 2290.6,1449.2 2291.4,1448.4 2291.9,1446.9 2292.0,1445.2 2291.4,1443.4 2292.2,1441.9 2293.4,1440.6 2293.7,1439.1 2294.4,1437.6 2295.3,1436.3 2296.3,1435.1 2297.7,1434.1 2298.7,1433.3 2300.5,1433.6 2301.5,1435.0 2302.6,1436.3 2304.2,1436.7 2305.5,1437.7 2306.9,1438.7 2308.9,1437.8 2310.1,1440.5 2311.6,1438.4 2313.0,1437.8 2314.6,1437.4 2315.6,1435.8 2317.4,1435.8 2318.3,1436.6 2319.2,1437.9 2319.6,1439.5 2320.7,1440.7 2321.2,1442.3 2321.3,1441.1 2323.0,1440.4 2324.0,1439.1 2325.0,1438.1 2325.5,1437.0 2326.0,1438.8 2327.4,1439.8 2328.1,1441.6 2328.8,1440.0 2330.2,1439.2 2331.6,1438.3 2333.0,1437.9 2334.3,1436.8 2334.4,1439.0 2335.7,1440.0 2336.6,1441.5 2338.0,1440.7 2339.4,1439.8 2341.3,1440.6 2342.5,1439.0 2344.2,1439.1 2345.7,1438.3 2347.4,1438.6 2349.1,1438.8 2350.5,1438.1 2352.1,1438.3 2353.3,1439.5 2354.4,1440.6 2356.3,1440.8 2357.0,1442.6 2358.4,1443.3 2359.6,1443.3 2361.0,1442.5 2362.1,1441.3 2363.1,1440.0 2364.2,1438.8 2365.4,1437.7 2367.0,1438.4 2368.5,1439.2 2370.2,1438.9 2371.7,1439.2 2373.5,1438.5 2375.1,1438.6 2376.5,1439.9"/>
<path class="cr" d="M359.2,1509.1 358.5,1506.8 359.3,1505.3 360.4,1501.8 361.1,1505.5 362.0,1506.9 362.7,1508.3 362.5,1510.1 363.0,1511.6 364.8,1512.7 365.2,1514.1 365.8,1515.2 366.8,1516.8 368.2,1517.4 369.8,1516.5 369.9,1516.2 372.1,1515.6 373.5,1514.5 372.9,1512.4 373.1,1510.7 374.6,1510.6 375.9,1510.2 376.8,1511.9 377.8,1513.3 379.6,1513.4 381.3,1513.8 383.0,1513.4 383.6,1511.4 385.3,1510.9 386.3,1512.3 386.5,1513.9 387.3,1515.4 387.5,1517.0 388.2,1518.4 388.3,1520.1 388.9,1521.6 389.2,1523.2 389.7,1525.8 389.3,1522.8 392.3,1522.3 391.6,1520.3 391.4,1518.5 392.9,1517.4 393.7,1516.0 395.2,1514.8 394.0,1512.6 395.7,1511.6 396.2,1510.1 398.1,1509.6 398.7,1511.3 398.3,1513.6 399.1,1514.9 399.7,1516.5 401.1,1517.6 402.5,1518.4 404.2,1518.6 405.5,1520.0 407.5,1518.7 408.9,1519.7 410.3,1520.6 411.5,1519.0 413.9,1520.5 414.3,1518.1 416.0,1517.8 418.6,1518.6 417.8,1515.6 418.5,1514.3 420.8,1513.4 419.1,1511.1 420.1,1509.8 421.1,1508.8 421.4,1509.7 422.1,1511.2 423.1,1512.5 423.1,1514.3 424.2,1515.6 425.3,1516.8 426.5,1517.2 426.6,1516.1 426.2,1514.2 429.0,1513.6 427.6,1511.3 430.4,1510.8 431.6,1510.1 431.7,1508.3 432.3,1510.2 432.8,1511.7 432.4,1513.6 434.5,1514.4 434.5,1516.2 435.5,1517.4 435.7,1518.0 437.6,1517.3 436.5,1515.0 438.1,1514.0 439.0,1512.6 440.2,1511.5 439.7,1508.7 441.5,1511.0 443.2,1510.8 444.9,1511.6 446.1,1510.4 445.5,1508.3 447.0,1507.2 448.7,1506.6 449.1,1506.3 450.1,1507.5 449.8,1509.8 450.5,1511.3 453.1,1511.3 452.7,1513.6 456.5,1512.7 457.3,1513.7 457.4,1516.1 457.4,1513.9 458.8,1512.8 459.4,1511.3 459.6,1509.6 460.8,1508.5 461.1,1507.1 463.1,1506.7 463.6,1508.9 464.9,1509.8 465.5,1511.9 468.3,1510.6 469.0,1512.3 469.5,1510.8 470.4,1509.5 472.6,1508.8 472.3,1506.9 472.3,1505.1 473.5,1503.9 474.7,1502.8 474.6,1500.5 476.6,1500.7 478.5,1502.0 479.9,1501.1 481.4,1500.0 482.5,1501.1 483.0,1502.7 484.8,1503.6 483.5,1506.0 484.8,1507.2 485.8,1508.1 485.7,1506.0 487.0,1505.0 488.8,1504.2 489.5,1502.8 489.9,1501.1 491.5,1500.2 492.7,1499.1 492.4,1497.0 493.6,1495.5 495.5,1495.8 497.1,1496.3 497.7,1498.6 499.3,1499.1 500.8,1499.7 501.7,1498.8 502.1,1497.9 503.6,1496.8 504.1,1495.2 505.4,1494.3 506.3,1492.8 508.3,1492.9 510.2,1492.9 511.4,1491.8 512.8,1490.9 513.4,1488.9 515.1,1488.5 515.7,1486.6 517.7,1486.6 518.5,1484.6 519.8,1485.7 521.0,1486.8 521.1,1488.9 522.5,1489.8 523.6,1491.0 525.5,1491.4 525.7,1493.4 526.6,1493.2 528.7,1493.7 528.2,1491.6 529.2,1490.3 529.7,1488.7 529.2,1486.7 530.2,1485.3 532.0,1484.5 533.9,1483.7 532.6,1481.2 533.6,1479.9 534.9,1478.8 536.0,1476.1 537.6,1478.6 537.1,1480.5 537.3,1482.1 538.1,1483.5 537.0,1485.6 539.0,1486.6 539.7,1487.6 541.8,1487.3 543.1,1486.3 542.4,1483.0 544.3,1482.8 546.4,1482.8 546.1,1480.0 547.8,1479.2 549.7,1478.6 551.5,1479.5 552.8,1480.5 553.6,1482.3 554.5,1484.0 555.8,1485.0 557.8,1484.6 558.1,1482.7 560.2,1483.1 561.1,1481.7 562.7,1481.0 563.5,1479.6 564.0,1477.1 565.8,1478.9 568.4,1478.0 568.9,1480.0 569.7,1481.7 571.2,1482.3 573.2,1482.5 573.1,1478.6 575.6,1480.1 577.2,1479.6 578.2,1478.1 580.0,1477.9 580.2,1475.7 582.4,1475.8 583.6,1474.7 583.9,1472.6 585.3,1471.7 586.8,1471.0 587.7,1469.6 589.8,1469.8 590.7,1468.7 592.1,1469.9 593.7,1470.1 595.4,1469.4 597.0,1469.4 598.1,1468.8 599.1,1467.9 600.2,1466.8 602.1,1466.4 602.6,1464.3 604.1,1464.8 605.2,1466.0 606.7,1466.7 607.6,1468.0 609.1,1469.5 610.9,1469.4 612.1,1467.0 613.8,1467.2 615.2,1466.8 616.3,1466.1 618.5,1465.5 618.6,1463.8 619.9,1462.6 621.0,1461.4 620.1,1459.1 621.1,1457.8 622.0,1456.5 623.3,1455.8 624.1,1454.6 625.7,1455.3 627.4,1455.7 629.0,1455.7 630.6,1455.1 632.2,1454.0 633.8,1453.3 635.5,1455.7 637.1,1454.8 637.2,1452.7 638.4,1451.6 639.4,1450.4 640.3,1447.9 641.9,1450.2 643.7,1450.3 644.7,1451.5 646.2,1451.3 646.6,1449.5 648.0,1448.5 648.8,1447.2 649.5,1445.7 650.4,1444.4 652.4,1444.3 652.5,1442.4 653.4,1444.5 655.8,1443.0 656.7,1445.0 658.5,1445.1 658.7,1443.5 657.9,1441.3 662.0,1441.6 660.5,1439.1 661.4,1437.7 663.0,1436.7 663.6,1435.3 664.1,1434.6 664.8,1435.9 666.3,1437.2 664.6,1439.2 666.5,1440.4 665.9,1442.2 666.0,1443.9 666.2,1446.2 667.5,1444.4 668.2,1443.0 669.2,1441.7 668.8,1439.6 670.5,1438.7 671.2,1437.3 671.9,1435.8 673.8,1435.1 674.3,1433.5 676.1,1434.0 677.2,1434.0 678.8,1431.0 680.4,1432.8 681.7,1431.9 683.5,1431.9 684.4,1430.5 686.0,1429.9 686.7,1428.4 688.2,1427.5 688.6,1425.7 688.7,1423.1 690.7,1423.1 692.2,1422.4 693.6,1421.7 693.9,1420.3 696.6,1419.7 695.6,1417.6 697.4,1416.5 696.5,1414.5 697.4,1415.2 699.4,1413.8 699.7,1416.0 702.0,1415.6 702.7,1417.9 704.5,1416.6 702.2,1414.1 703.3,1412.8 704.7,1411.6 704.9,1409.9 704.3,1408.1 707.0,1407.2 706.5,1405.4 708.0,1404.2 707.7,1402.4 706.9,1400.5 708.0,1399.1 710.0,1398.1 708.4,1395.4 710.5,1395.3 712.0,1396.6 713.5,1397.2 715.1,1397.3 716.7,1395.5 719.5,1397.3 717.9,1394.7 718.2,1393.1 718.4,1391.5 718.4,1389.9 718.0,1388.2 718.7,1386.7 720.4,1385.3 718.2,1383.4 717.4,1381.7 720.3,1380.5 720.3,1378.8 720.9,1377.3 721.9,1376.2 720.9,1374.0 722.7,1373.7 724.2,1373.0 725.9,1372.7 727.2,1371.7 727.5,1369.5 727.7,1368.4 728.8,1367.2 727.8,1365.4 730.4,1364.1 729.2,1362.4 729.4,1360.8 729.2,1359.1 731.5,1357.8 730.6,1356.1 730.1,1354.4 731.3,1352.9 730.8,1351.3 731.6,1349.7 732.4,1348.2 731.2,1346.5 732.1,1344.9 732.3,1343.3 733.0,1341.8 732.7,1340.3 732.7,1340.0 734.0,1341.0 734.1,1342.8 735.8,1343.4 736.3,1344.3 736.3,1342.5 737.2,1341.1 736.7,1339.3 736.9,1337.6 737.2,1336.1 739.4,1335.0 738.7,1333.2 739.2,1331.6 738.2,1329.7 740.2,1328.6 737.7,1326.2 742.3,1325.8 741.3,1323.9 742.0,1322.4 741.2,1320.5 741.9,1319.0 743.8,1317.9 743.6,1316.2 744.5,1314.7 745.6,1313.3 745.4,1311.7 743.5,1309.6 744.6,1308.2 744.8,1306.6 745.3,1305.1 744.6,1303.3 745.0,1301.7 746.5,1300.4 747.0,1298.9 748.3,1297.5 747.9,1295.8 749.7,1294.5 747.2,1292.3 747.9,1290.9 749.7,1289.6 749.6,1287.9 749.3,1286.2 751.2,1285.0 751.8,1283.5 752.3,1281.9 751.2,1280.1 751.8,1278.6 752.4,1277.0 752.4,1275.4 753.5,1273.9 752.4,1272.2 753.4,1270.7 751.4,1268.8 754.3,1267.6 755.3,1266.1 754.0,1264.3 755.2,1262.8 753.1,1260.9 754.5,1259.5 753.6,1257.7 755.5,1256.4 756.0,1254.8 754.5,1253.0 755.2,1251.5 755.7,1249.9 754.8,1250.0 754.7,1248.0 755.2,1246.0 754.9,1244.0 755.7,1242.0 755.4,1240.0 756.0,1238.0 756.2,1236.0 756.2,1234.0 757.4,1232.1 756.7,1230.0 757.2,1228.0 757.6,1226.1 757.2,1224.0 758.1,1222.1 757.9,1220.0 758.4,1218.1 758.2,1216.0 758.4,1214.0 759.1,1212.1 759.2,1210.1 759.3,1208.1 759.7,1206.1 759.9,1204.1 759.7,1202.0 759.6,1200.0 760.0,1198.0 760.1,1196.0 760.2,1194.0 760.7,1192.0 760.9,1190.0 761.2,1188.1 761.4,1186.1 761.4,1184.0 761.6,1182.0 761.9,1180.0 761.8,1178.0 762.0,1176.0 762.4,1174.0 762.3,1172.0 762.5,1170.0 762.8,1168.0 763.3,1166.0 763.2,1164.0 763.2,1162.0 763.3,1160.0 763.6,1158.0 764.3,1156.1 763.2,1153.9 764.2,1152.0 764.3,1150.0 764.6,1148.0 764.3,1146.0 765.3,1144.0 765.1,1142.0 765.0,1140.0 765.2,1138.0 765.1,1136.0 765.5,1134.0 765.6,1132.0 766.0,1130.0 766.0,1128.0 766.0,1125.9 766.3,1124.0 766.4,1121.9 766.5,1119.9 766.2,1117.9 767.0,1115.9 766.6,1113.9 766.7,1111.9 767.1,1109.9 767.4,1107.9 767.8,1105.9 767.1,1103.9 768.1,1101.9 768.2,1099.9 767.9,1097.9 768.1,1095.9 768.1,1093.9 768.3,1091.9 768.2,1089.8 768.3,1087.8 768.8,1085.9 769.1,1083.9 769.6,1081.9 769.0,1079.8 768.9,1077.8 769.6,1075.8 769.6,1073.8 770.0,1071.8 769.9,1069.8 769.9,1067.8 770.2,1065.8 770.7,1063.8 770.7,1061.8 770.6,1059.8 771.2,1057.8 770.7,1055.8 771.1,1053.8 771.4,1051.8 771.2,1049.8 771.4,1047.8 771.9,1045.8 772.0,1043.8 772.1,1041.8 772.2,1039.8 772.2,1037.7 772.4,1035.7 773.6,1033.8 772.8,1031.7 773.5,1029.8 773.2,1027.7 773.9,1025.8 774.0,1023.8 774.0,1021.8 773.9,1019.7 773.9,1017.7 774.7,1015.8 774.3,1013.7 774.5,1011.7 775.3,1009.8 775.5,1007.8 775.3,1005.7 775.4,1003.7 775.5,1001.7 775.9,999.7 775.9,997.7 775.8,995.7 776.2,993.7 776.6,991.7 776.4,989.7 776.7,987.7 777.1,985.7 777.7,983.8 777.7,981.8 778.1,979.8 779.0,977.9 778.7,975.8 779.2,973.9 780.0,972.0 780.4,970.0 780.7,968.0 780.4,965.9 781.6,964.1 782.0,962.1 782.5,960.2 783.4,958.4 784.3,956.6 784.6,954.6 785.3,952.4 786.4,954.4 786.6,956.5 787.4,958.3 787.9,960.3 788.7,962.1 788.9,964.2 789.1,966.2 789.5,968.1 790.2,970.1 790.0,972.1 790.4,974.1 791.5,976.0 791.0,978.1 792.0,979.9 792.1,982.0 791.8,984.0 792.1,986.0 792.6,988.0 792.9,990.0 792.8,992.0 793.5,994.0 793.2,996.0 793.5,998.0 793.5,1000.0 793.9,1002.0 794.3,1004.0 794.2,1006.0 794.6,1008.0 795.0,1010.0 795.2,1012.0 795.3,1014.0 795.3,1016.0 795.3,1018.0 795.7,1020.0 796.2,1022.0 796.2,1024.0 796.1,1026.0 796.2,1028.0 796.9,1030.0 796.8,1032.0 797.2,1034.0 797.8,1035.9 797.8,1038.0 797.7,1040.0 797.9,1042.0 798.0,1044.0 798.2,1046.0 798.1,1048.0 798.6,1050.0 798.9,1052.0 798.5,1054.0 798.9,1056.0 798.7,1058.0 799.3,1060.0 798.9,1062.1 799.7,1064.0 799.8,1066.0 799.5,1068.1 799.4,1070.1 800.2,1072.0 799.7,1074.1 799.9,1076.1 800.2,1078.1 800.6,1080.1 801.3,1082.0 801.3,1084.1 801.2,1086.1 801.1,1088.1 801.4,1090.1 801.7,1092.1 801.7,1094.1 802.4,1096.1 802.0,1098.1 802.6,1100.1 802.2,1102.1 802.7,1104.1 803.1,1106.1 803.3,1108.1 803.7,1110.0 803.5,1112.1 804.0,1114.1 804.0,1116.1 803.9,1118.1 804.3,1120.1 804.4,1122.1 804.1,1124.2 804.8,1126.1 804.9,1128.1 805.4,1130.1 805.8,1132.1 805.7,1134.1 806.2,1136.1 806.9,1138.0 806.2,1140.1 806.5,1142.1 807.0,1144.1 806.6,1146.1 807.1,1148.1 807.4,1150.1 807.7,1152.1 807.3,1154.1 807.9,1156.1 808.1,1158.1 808.3,1160.1 808.6,1162.1 809.0,1164.1 808.9,1166.1 809.1,1168.1 808.9,1170.1 809.6,1172.1 809.3,1174.1 809.7,1176.1 810.0,1178.1 810.0,1180.1 810.1,1182.1 810.3,1184.1 810.4,1186.1 810.6,1188.1 811.3,1190.1 811.2,1192.1 810.8,1194.2 811.4,1196.1 812.2,1198.1 811.7,1200.1 811.5,1202.2 811.8,1204.2 812.3,1206.1 812.4,1208.1 812.5,1210.1 812.8,1212.1 813.1,1214.1 812.7,1216.2 813.4,1218.1 813.2,1220.2 814.0,1222.1 814.0,1224.1 814.3,1226.1 814.0,1228.2 814.5,1230.1 814.6,1232.1 814.9,1234.1 814.8,1236.2 814.8,1238.2 815.3,1240.2 815.2,1242.2 815.5,1244.2 815.8,1246.2 815.8,1248.2 815.7,1250.2 816.9,1252.1 816.3,1254.2 816.2,1256.2 816.9,1258.2 816.9,1260.2 817.1,1262.2 817.4,1264.2 817.7,1266.2 817.6,1268.2 817.9,1270.2 818.3,1272.2 818.4,1274.2 819.0,1276.1 819.0,1278.1 819.2,1280.2 819.4,1282.1 819.8,1284.1 819.5,1286.2 820.0,1288.2 820.1,1290.2 820.8,1292.1 820.8,1294.1 821.1,1296.1 821.2,1298.1 820.9,1300.2 821.3,1304.9 820.5,1306.6 821.2,1308.1 821.1,1309.8 820.7,1311.5 821.5,1313.0 821.1,1314.7 821.7,1316.2 821.4,1317.9 823.4,1319.2 823.4,1320.9 824.0,1322.4 822.9,1324.2 823.7,1325.7 823.1,1327.4 823.7,1328.9 824.1,1330.5 822.9,1332.3 824.2,1333.8 824.8,1335.3 825.7,1336.8 824.4,1338.6 824.8,1340.2 826.4,1341.6 826.0,1343.3 825.9,1344.9 827.4,1346.3 826.7,1348.1 825.8,1349.8 828.1,1351.1 826.8,1352.9 826.1,1354.7 828.0,1356.0 828.1,1357.6 827.9,1359.3 827.9,1360.9 828.2,1362.5 829.7,1363.9 829.4,1365.6 829.0,1367.3 829.5,1368.8 828.7,1370.6 829.9,1372.0 830.2,1373.6 828.9,1375.4 830.4,1376.9 831.3,1378.4 830.8,1380.1 831.2,1381.6 830.7,1383.3 831.1,1384.9 831.9,1386.4 832.1,1388.0 832.5,1389.6 831.4,1391.4 831.1,1393.0 832.8,1394.4 832.6,1396.1 833.0,1397.7 833.8,1399.2 834.0,1400.8 834.2,1402.4 835.5,1403.8 834.9,1405.5 834.3,1407.2 834.2,1408.9 835.2,1410.4 835.5,1412.0 835.1,1413.7 834.3,1415.4 836.6,1416.7 836.7,1418.3 836.7,1419.9 836.3,1421.6 837.5,1423.1 836.8,1424.8 837.8,1426.3 837.2,1428.0 838.1,1429.5 838.4,1431.1 837.8,1432.8 839.5,1434.2 839.5,1435.8 838.7,1437.6 838.9,1439.2 839.6,1440.7 841.5,1442.0 839.8,1443.9 840.3,1445.5 841.0,1447.0 842.4,1448.4 840.7,1450.3 840.4,1452.0 841.5,1453.5 841.2,1455.1 842.8,1456.5 842.5,1458.2 843.5,1459.6 844.3,1461.0 844.3,1462.7 845.2,1464.1 845.6,1465.7 846.1,1467.2 846.4,1468.8 846.8,1470.4 847.1,1472.0 848.5,1473.2 847.9,1475.1 849.9,1476.1 849.1,1478.1 849.6,1479.6 851.7,1480.6 850.9,1482.6 850.5,1484.5 851.6,1485.8 852.8,1487.0 853.4,1488.5 853.5,1490.2 854.1,1491.7 854.3,1493.4 855.4,1494.7 855.5,1496.4 856.5,1497.7 858.1,1498.6 859.2,1499.7 859.9,1501.2 860.4,1502.9 861.6,1504.2 860.9,1506.0 862.9,1507.1 862.5,1508.9 863.4,1510.4 862.9,1512.1 863.5,1513.7 864.1,1515.2 865.2,1516.4 865.2,1517.0 866.4,1516.5 868.3,1516.8 869.4,1515.0 870.3,1516.1 870.6,1517.6 872.3,1518.6 872.8,1520.1 874.5,1521.1 874.0,1523.1 874.2,1525.2 875.0,1523.1 876.8,1522.6 878.0,1521.8 878.4,1521.4 879.3,1522.7 879.2,1524.4 880.2,1525.8 880.5,1527.4 878.9,1529.4 881.3,1530.5 881.8,1532.0 881.6,1533.7 881.9,1535.3 882.1,1537.1 883.9,1537.7 885.2,1538.7 886.2,1539.8 887.1,1541.3 888.0,1539.5 887.2,1537.6 887.9,1536.1 888.6,1534.7 888.5,1532.9 889.3,1531.5 890.7,1530.2 889.7,1528.2 890.7,1528.2 890.5,1529.8 892.4,1531.0 891.3,1532.9 892.4,1534.3 893.1,1535.8 892.5,1537.6 893.4,1539.0 894.0,1540.5 894.6,1542.0 895.1,1543.6 895.0,1544.9 895.6,1543.9 897.0,1542.9 897.3,1541.1 898.4,1539.9 898.8,1538.3 900.0,1535.8 903.6,1537.0 906.6,1553.6 909.5,1539.3 915.4,1535.8 919.0,1546.4 921.8,1541.7 924.9,1555.9 929.6,1550.0 934.4,1551.2 936.7,1541.7 939.8,1541.7 942.2,1554.7 945.0,1538.2 948.6,1554.7 951.7,1534.6 955.0,1555.9 958.1,1559.5 962.1,1525.1 965.2,1539.3 967.5,1546.4 970.6,1514.5 974.6,1523.9 977.0,1551.2 980.6,1535.8 983.4,1554.7 985.8,1535.8 989.6,1576.1 992.9,1550.0 994.8,1574.9 997.2,1563.0 1000.7,1574.9 1003.1,1501.4 1005.5,1537.0 1007.8,1567.8 1010.9,1584.4 1014.2,1488.4 1016.1,1541.7 1019.2,1592.7 1022.7,1525.1 1025.1,1608.1 1028.0,1534.6 1029.9,1600.9 1032.7,1537.0 1036.3,1528.7 1038.6,1499.1 1041.0,1529.9 1042.9,1431.5 1045.0,1489.6 1046.9,1563.0 1048.8,1587.9 1050.5,1606.9 1053.6,1563.0 1055.2,1587.9 1057.6,1496.7 1059.2,1548.8 1062.3,1501.4 1064.7,1578.4 1068.2,1473.0 1071.1,1526.3 1074.2,1487.2 1076.5,1458.8 1079.6,1475.4 1082.9,1454.0 1086.0,1522.7 1089.6,1480.1 1093.1,1501.4 1096.2,1489.6 1100.2,1515.6 1103.3,1482.5 1106.2,1477.7 1109.7,1513.3 1112.1,1520.4 1116.1,1457.6 1119.2,1508.5 1121.6,1533.4 1123.9,1496.7 1127.0,1495.5 1129.4,1535.8 1131.8,1444.5 1134.6,1494.3 1137.4,1627.0 1139.8,1473.0 1142.9,1564.2 1145.3,1535.8 1148.3,1448.1 1151.2,1470.6 1154.0,1461.1 1157.1,1513.3 1159.5,1606.9 1162.6,1499.1 1164.9,1561.8 1167.8,1501.4 1171.3,1496.7 1174.9,1448.1 1177.7,1503.8 1181.5,1463.5 1185.5,1494.3 1188.6,1474.2 1191.9,1521.6 1195.7,1450.5 1199.8,1503.8 1203.3,1470.6 1206.2,1499.1 1210.4,1462.3 1214.7,1497.9 1219.9,1458.8 1224.2,1499.1 1227.0,1489.6 1231.8,1482.5 1235.3,1489.6 1238.9,1486.0 1244.8,1482.5 1247.6,1473.0 1251.2,1501.4 1255.5,1480.1 1259.0,1499.1 1262.6,1484.8 1267.8,1507.3 1272.0,1489.6 1274.4,1501.4 1279.1,1510.9 1281.5,1482.5 1286.3,1508.5 1291.0,1501.4 1295.3,1493.1 1298.1,1501.4 1300.6,1499.1 1301.5,1497.8 1301.8,1496.2 1302.2,1494.6 1303.2,1493.3 1303.8,1490.8 1304.9,1493.1 1305.5,1494.6 1305.6,1496.3 1306.2,1497.7 1306.6,1499.3 1306.9,1500.9 1307.3,1502.5 1308.3,1503.6 1308.4,1501.8 1309.6,1500.5 1309.6,1498.8 1311.2,1497.6 1311.1,1496.0 1311.4,1495.2 1312.2,1496.5 1313.5,1497.6 1313.8,1499.3 1315.2,1500.3 1315.5,1502.2 1315.6,1500.2 1316.8,1499.2 1319.1,1498.9 1319.9,1497.7 1319.6,1497.3 1321.6,1497.9 1321.9,1499.5 1322.3,1501.1 1322.9,1502.6 1322.2,1504.5 1323.1,1505.9 1323.2,1507.5 1324.0,1509.0 1324.6,1510.4 1325.5,1511.9 1325.4,1509.7 1324.9,1507.8 1326.6,1506.7 1326.0,1504.8 1326.6,1503.3 1328.1,1502.1 1327.2,1500.2 1328.0,1498.7 1328.4,1497.1 1329.1,1497.6 1329.8,1498.5 1331.7,1498.7 1332.5,1500.5 1334.8,1499.5 1336.0,1500.7 1337.2,1502.1 1339.0,1501.9 1340.3,1501.4 1341.4,1500.2 1342.7,1499.2 1343.6,1497.9 1345.3,1498.1 1346.0,1499.7 1347.3,1500.7 1348.0,1502.4 1348.2,1501.3 1349.2,1500.3 1350.9,1499.3 1351.0,1497.6 1352.8,1496.6 1352.0,1494.6 1353.2,1491.9 1352.5,1495.1 1353.4,1496.5 1354.2,1498.0 1355.2,1499.3 1355.0,1501.1 1354.9,1502.8 1355.5,1504.3 1356.1,1505.8 1356.9,1506.0 1357.0,1504.3 1356.6,1502.6 1357.7,1501.2 1358.1,1499.6 1359.3,1498.2 1358.5,1496.4 1358.2,1494.7 1359.8,1493.4 1359.3,1492.3 1360.2,1493.3 1361.0,1494.7 1359.8,1496.7 1362.1,1497.7 1361.9,1499.5 1361.8,1501.2 1363.0,1502.5 1363.0,1504.2 1363.0,1505.9 1363.5,1505.7 1363.4,1504.1 1364.3,1502.7 1365.0,1501.2 1366.2,1499.9 1365.4,1498.0 1367.3,1496.9 1366.4,1494.9 1367.7,1494.2 1366.6,1495.0 1367.5,1496.3 1368.9,1497.5 1368.3,1499.4 1369.1,1500.8 1370.0,1502.2 1370.9,1503.6 1371.5,1505.1 1371.8,1506.7 1370.9,1508.7 1372.4,1509.9 1372.9,1511.4 1374.0,1512.8 1374.0,1514.4 1374.8,1515.8 1374.7,1515.1 1375.7,1513.7 1375.8,1512.1 1376.6,1510.7 1377.0,1509.1 1377.1,1507.5 1378.3,1506.2 1378.8,1504.6 1377.5,1502.1 1379.7,1502.6 1380.7,1503.9 1381.7,1505.2 1381.9,1507.0 1383.5,1507.9 1385.0,1508.5 1386.5,1509.0 1387.7,1510.6 1387.4,1509.0 1388.5,1507.8 1388.6,1506.1 1389.1,1504.6 1389.4,1503.0 1389.3,1501.4 1389.6,1499.8 1390.6,1498.4 1390.4,1496.7 1392.1,1495.4 1391.8,1493.7 1391.5,1491.6 1392.0,1493.1 1392.8,1494.5 1393.0,1496.2 1392.6,1497.9 1393.4,1499.4 1394.9,1500.6 1394.5,1502.4 1395.4,1503.8 1396.0,1505.2 1395.9,1503.2 1395.4,1501.4 1394.7,1499.6 1396.6,1498.4 1396.9,1496.8 1397.3,1495.3 1399.4,1494.1 1398.6,1492.3 1399.3,1490.9 1399.7,1489.9 1399.2,1491.9 1400.3,1493.3 1401.3,1494.7 1401.0,1496.4 1401.2,1498.0 1402.2,1499.4 1401.1,1501.4 1402.3,1502.7 1403.6,1503.9 1401.9,1503.6 1404.1,1503.0 1404.6,1501.5 1405.1,1499.9 1404.7,1498.1 1405.2,1496.6 1406.5,1495.3 1406.5,1493.6 1407.2,1492.2 1408.6,1491.4 1410.0,1490.8 1410.9,1488.9 1412.1,1489.3 1412.5,1490.9 1413.7,1492.2 1413.4,1494.0 1415.2,1495.0 1415.0,1496.9 1416.1,1498.1 1417.0,1499.3 1417.5,1497.3 1417.9,1495.7 1418.9,1494.5 1419.2,1492.8 1421.0,1492.1 1421.8,1490.7 1423.0,1489.6 1424.5,1488.9 1425.2,1488.7 1426.2,1489.8 1427.3,1491.0 1426.7,1493.1 1427.8,1494.3 1428.6,1495.7 1429.0,1497.6 1430.1,1496.8 1431.9,1496.2 1432.0,1494.2 1433.0,1492.9 1434.1,1491.9 1435.6,1491.3 1437.2,1491.1 1438.8,1490.9 1440.3,1490.1 1442.0,1490.3 1443.4,1489.4 1445.3,1489.7 1446.1,1487.8 1447.7,1487.1 1449.1,1488.2 1449.8,1489.9 1451.1,1490.9 1452.3,1491.2 1453.7,1490.7 1453.2,1488.5 1454.4,1487.3 1455.5,1486.1 1456.5,1484.9 1457.0,1483.2 1459.0,1483.1 1460.2,1482.1 1461.2,1480.7 1462.5,1479.9 1463.8,1479.2 1465.0,1480.3 1465.9,1481.7 1467.1,1482.8 1468.4,1483.7 1469.9,1484.2 1471.6,1483.9 1473.2,1484.1 1474.6,1485.5 1476.2,1484.8 1477.7,1485.3 1479.5,1485.9 1480.9,1485.0 1482.4,1484.4 1483.9,1484.0 1485.4,1484.5 1486.9,1484.9 1488.7,1484.4 1490.3,1484.7 1491.5,1485.3 1492.7,1484.7 1494.7,1484.3 1494.8,1482.3 1495.7,1481.0 1497.2,1480.1 1497.9,1479.0 1499.4,1478.3 1501.1,1477.8 1502.1,1480.9 1504.0,1479.5 1505.6,1479.7 1507.0,1481.0 1508.8,1479.9 1510.4,1480.6 1512.1,1480.2 1513.5,1481.9 1514.6,1480.3 1516.1,1479.7 1517.6,1479.1 1518.5,1477.6 1520.7,1477.8 1521.1,1475.6 1522.2,1474.1 1524.2,1475.0 1525.8,1474.5 1527.3,1474.0 1528.5,1472.5 1530.0,1472.1 1531.6,1471.8 1533.3,1471.8 1534.6,1470.5 1536.4,1470.7 1537.7,1469.8 1539.2,1469.0 1540.3,1467.6 1541.3,1466.3 1543.3,1466.5 1545.0,1466.3 1546.3,1465.2 1547.2,1463.4 1548.9,1464.1 1550.5,1463.9 1552.1,1464.4 1553.8,1463.5 1555.4,1463.8 1556.9,1464.5 1558.4,1465.6 1559.9,1464.7 1561.0,1463.7 1562.6,1462.9 1562.7,1461.0 1563.7,1459.8 1564.7,1458.4 1566.5,1458.0 1567.1,1456.3 1568.1,1454.9 1569.7,1454.3 1571.3,1453.8 1572.6,1453.0 1574.2,1452.6 1575.8,1452.4 1577.1,1451.3 1578.4,1450.2 1579.2,1448.7 1581.2,1448.8 1582.7,1448.0 1583.8,1446.9 1585.1,1445.9 1585.9,1444.3 1587.6,1443.9 1588.0,1441.8 1589.4,1441.0 1590.5,1439.8 1592.7,1440.0 1593.9,1439.0 1595.3,1438.6 1597.0,1438.9 1598.2,1436.8 1600.0,1437.4 1601.4,1436.7 1602.3,1435.4 1604.1,1434.9 1604.7,1433.3 1605.5,1431.9 1607.5,1431.5 1608.1,1429.9 1609.4,1428.9 1611.0,1428.4 1611.9,1426.9 1613.1,1425.8 1614.6,1425.2 1616.3,1424.8 1616.4,1422.2 1618.9,1422.8 1619.9,1421.6 1621.0,1420.3 1622.4,1419.4 1622.3,1417.4 1623.9,1416.5 1625.1,1415.3 1625.4,1413.6 1625.3,1411.7 1626.8,1410.7 1627.0,1408.9 1628.1,1407.6 1629.4,1406.5 1631.3,1406.2 1632.8,1405.4 1633.2,1403.5 1634.9,1402.9 1635.2,1401.1 1635.8,1399.7 1637.3,1398.6 1638.4,1397.3 1638.4,1395.6 1636.9,1393.3 1638.6,1392.2 1639.5,1390.8 1640.1,1389.4 1640.4,1387.7 1643.2,1387.5 1641.7,1384.7 1643.6,1384.0 1644.0,1382.3 1645.2,1381.2 1646.2,1379.9 1646.6,1378.3 1647.9,1377.2 1647.7,1375.2 1648.9,1374.0 1650.4,1373.1 1650.3,1371.2 1652.0,1370.3 1652.2,1368.6 1652.5,1367.0 1653.9,1365.9 1654.2,1364.2 1656.3,1363.5 1656.1,1361.6 1657.7,1360.6 1657.0,1358.4 1658.8,1357.6 1659.0,1355.8 1660.3,1354.8 1660.7,1353.1 1662.6,1352.6 1664.0,1351.7 1663.8,1349.4 1664.8,1348.1 1667.2,1348.1 1666.7,1345.6 1668.0,1344.7 1668.3,1343.1 1668.2,1341.4 1669.4,1340.1 1670.1,1338.6 1669.4,1336.7 1671.8,1335.8 1671.7,1334.1 1670.7,1332.0 1672.7,1331.0 1674.5,1329.9 1673.2,1327.8 1674.4,1326.5 1676.0,1325.5 1674.5,1323.0 1677.2,1322.5 1678.3,1321.3 1678.8,1319.7 1678.0,1317.5 1679.8,1316.7 1680.0,1315.0 1681.7,1314.0 1682.1,1312.4 1681.7,1310.5 1682.4,1309.0 1682.4,1307.4 1683.2,1305.9 1683.7,1304.4 1684.4,1302.9 1684.7,1301.3 1684.8,1299.7 1685.8,1298.3 1686.0,1296.7 1686.7,1295.3 1686.7,1293.6 1688.5,1292.5 1688.9,1290.9 1689.3,1289.4 1688.5,1287.4 1689.8,1286.1 1690.0,1284.5 1690.7,1283.1 1691.5,1281.6 1692.2,1280.2 1691.7,1278.3 1693.4,1277.2 1694.0,1275.7 1694.4,1274.1 1693.9,1272.3 1694.9,1270.9 1695.3,1269.3 1695.3,1267.7 1695.8,1266.1 1696.8,1264.8 1696.7,1263.1 1697.0,1261.5 1698.2,1260.2 1698.8,1258.7 1699.8,1257.3 1700.8,1255.9 1699.6,1253.9 1701.0,1252.6 1701.6,1251.1 1701.1,1249.3 1701.9,1247.9 1702.6,1246.4 1702.9,1244.8 1703.9,1243.4 1704.9,1242.1 1705.5,1240.6 1704.7,1238.7 1705.0,1237.1 1706.2,1235.8 1706.0,1234.0 1706.5,1232.5 1707.4,1231.1 1706.9,1229.3 1708.7,1228.1 1708.0,1226.3 1708.9,1224.8 1708.7,1223.1 1709.7,1221.7 1709.4,1220.0 1709.3,1218.3 1710.4,1216.9 1711.5,1215.6 1710.7,1213.7 1712.4,1212.5 1713.4,1211.1 1712.7,1209.2 1713.8,1207.9 1713.6,1206.1 1714.7,1204.8 1714.4,1203.1 1713.7,1201.2 1715.1,1199.9 1718.7,1180.8 1718.8,1178.3 1719.1,1175.8 1719.9,1173.4 1720.2,1170.8 1720.5,1168.3 1721.1,1165.9 1721.8,1163.5 1722.3,1161.0 1722.6,1158.5 1723.1,1156.0 1723.6,1153.6 1724.1,1151.1 1724.2,1148.5 1724.7,1146.1 1725.9,1143.7 1726.4,1141.3 1726.2,1138.7 1726.6,1136.2 1728.2,1134.0 1729.0,1131.6 1729.0,1129.0 1729.7,1126.6 1730.7,1124.2 1731.5,1121.8 1731.8,1119.3 1732.3,1116.8 1732.6,1114.3 1733.2,1111.9 1733.9,1109.5 1734.1,1106.9 1734.2,1104.4 1735.3,1102.1 1736.5,1099.7 1736.7,1097.2 1736.9,1094.7 1737.1,1092.1 1737.1,1089.6 1737.1,1087.1 1737.5,1084.6 1738.0,1082.1 1738.3,1079.6 1738.4,1077.1 1739.1,1074.6 1739.9,1072.2 1740.5,1069.8 1741.1,1067.3 1740.9,1064.7 1741.0,1062.2 1741.5,1059.7 1741.7,1057.2 1742.6,1054.8 1743.3,1052.4 1743.3,1049.8 1743.5,1047.3 1743.9,1044.8 1744.0,1042.3 1744.1,1039.8 1744.4,1037.3 1745.2,1034.8 1745.5,1032.3 1745.4,1029.8 1745.9,1027.3 1746.2,1024.8 1747.0,1022.4 1747.7,1019.9 1747.2,1017.3 1747.2,1014.8 1748.3,1012.4 1748.8,1009.9 1749.0,1007.4 1749.6,1005.0 1749.9,1002.5 1750.1,999.9 1750.4,997.4 1751.0,995.0 1751.1,992.5 1751.6,990.0 1752.2,987.5 1752.6,985.0 1753.1,982.6 1753.3,980.1 1753.3,977.5 1753.9,975.1 1754.7,972.6 1754.6,970.1 1754.5,967.5 1755.3,965.1 1756.1,962.7 1755.9,960.1 1756.1,957.6 1756.7,955.1 1757.1,952.6 1757.8,950.2 1758.6,947.8 1758.7,945.2 1759.0,942.7 1759.8,940.3 1760.4,937.9 1760.5,935.3 1760.4,932.8 1761.0,930.3 1761.4,927.8 1762.0,925.4 1762.4,922.9 1762.6,920.4 1762.9,917.9 1762.9,915.3 1763.3,912.9 1763.8,910.4 1763.9,907.9 1764.3,905.4 1764.7,902.9 1764.8,900.4 1765.2,897.9 1766.1,895.4 1766.1,892.9 1766.0,890.4 1766.0,887.8 1766.5,885.3 1766.9,882.9 1767.2,880.4 1767.8,877.9 1768.3,875.4 1768.5,872.9 1768.4,870.4 1769.1,867.9 1770.2,865.5 1769.9,862.9 1769.6,860.4 1770.7,858.0 1771.4,855.5 1771.3,853.0 1771.4,850.4 1771.3,847.9 1771.4,845.4 1772.3,843.0 1772.1,840.4 1772.2,837.9 1772.8,835.4 1773.3,832.9 1773.6,830.4 1773.2,827.9 1773.6,825.4 1774.0,822.9 1774.5,820.4 1775.3,818.0 1775.2,815.4 1775.0,812.9 1775.8,810.4 1775.9,807.9 1776.2,805.4 1776.9,803.0 1777.1,800.4 1777.3,797.9 1777.7,795.4 1778.3,793.0 1778.4,790.5 1778.7,788.0 1779.0,785.5 1778.7,782.9 1779.3,780.4 1780.1,778.0 1780.4,775.5 1780.5,773.0 1780.5,770.4 1780.8,767.9 1780.8,765.4 1781.3,762.9 1782.3,760.5 1782.6,758.0 1782.5,755.5 1782.6,752.9 1782.6,750.4 1783.2,747.9 1783.9,745.5 1784.1,743.0 1784.2,740.5 1784.4,738.0 1784.6,735.4 1785.3,733.0 1786.0,730.5 1785.9,728.0 1785.7,725.4 1785.8,722.9 1786.6,720.5 1787.2,718.0 1787.9,715.5 1788.1,713.0 1787.7,710.5 1787.8,707.9 1787.5,705.4 1788.0,702.9 1788.3,700.4 1788.3,697.9 1788.9,695.4 1789.3,692.9 1789.8,690.4 1790.1,687.9 1790.4,685.4 1790.4,682.9 1790.7,680.4 1791.0,677.9 1790.9,675.4 1791.2,672.9 1791.6,670.4 1791.8,667.9 1792.3,665.4 1792.3,662.9 1792.2,660.3 1792.7,657.9 1793.2,655.4 1793.1,652.8 1793.7,650.4 1793.8,647.8 1793.8,645.3 1794.4,642.8 1794.3,640.3 1794.3,637.8 1794.8,635.3 1795.4,632.8 1795.3,630.3 1795.5,627.8 1796.3,625.3 1796.3,622.8 1796.3,620.3 1796.3,617.7 1796.7,615.3 1797.2,612.8 1797.4,610.3 1797.5,607.7 1797.9,605.3 1798.3,602.8 1798.3,600.2 1798.9,597.8 1799.2,595.3 1799.0,592.7 1799.2,590.2 1799.8,587.7 1800.1,585.2 1800.2,582.7 1800.4,580.2 1800.6,577.7 1800.8,575.2 1800.9,572.7 1801.3,570.2 1801.9,567.7 1802.0,565.2 1801.9,562.7 1802.2,560.2 1802.4,557.7 1802.9,555.2 1803.4,552.7 1803.7,550.2 1804.0,547.7 1803.9,545.2 1804.2,542.7 1804.6,540.2 1804.7,537.6 1804.8,535.1 1804.9,532.6 1805.2,530.1 1805.4,527.6 1805.5,525.1 1805.6,522.6 1806.3,520.1 1807.3,517.7 1807.4,515.1 1806.9,512.6 1807.2,510.1 1808.1,507.6 1808.1,505.1 1808.3,502.6 1809.0,500.1 1808.3,497.5 1808.6,495.0 1809.4,492.6 1809.5,490.1 1809.3,487.5 1809.5,485.0 1810.5,482.6 1810.8,480.1 1810.2,477.5 1810.7,475.0 1811.4,472.5 1811.3,470.0 1811.7,467.5 1812.0,465.0 1812.0,462.5 1812.2,460.0 1812.8,457.5 1813.2,455.0 1813.0,452.5 1813.6,450.0 1819.2,385.0 1818.6,383.4 1819.8,382.0 1820.2,380.5 1820.3,379.1 1820.9,377.6 1820.3,376.0 1820.4,374.5 1820.8,373.0 1820.7,371.5 1822.0,370.2 1821.8,368.6 1820.8,367.0 1821.7,365.6 1822.1,364.1 1821.4,362.5 1822.8,361.2 1822.3,359.6 1822.3,358.1 1822.8,356.6 1822.7,355.1 1823.7,353.7 1823.7,352.2 1823.5,350.7 1823.6,349.1 1824.1,347.7 1823.8,346.1 1824.6,344.7 1824.4,343.2 1825.0,341.8 1825.5,340.3 1825.2,338.8 1825.5,337.3 1825.8,335.8 1826.3,334.3 1826.4,332.8 1826.5,331.3 1826.7,329.8 1826.2,328.3 1826.1,326.7 1826.6,325.3 1828.6,324.0 1827.5,322.4 1827.4,320.8 1828.1,319.4 1828.1,317.9 1828.5,316.4 1828.7,315.0 1828.3,313.4 1828.6,311.9 1829.5,310.5 1828.9,308.9 1829.6,307.5 1829.4,305.9 1830.0,304.5 1830.4,303.0 1830.0,301.5 1830.9,300.1 1830.4,298.5 1830.5,297.0 1831.0,295.5 1831.3,294.1 1831.1,292.5 1830.5,290.9 1831.5,289.5 1832.2,288.1 1832.5,286.6 1832.5,285.1 1833.7,283.8 1833.1,282.2 1832.7,280.6 1833.2,279.1 1833.6,277.7 1833.9,276.2 1834.1,274.7 1834.3,273.2 1834.0,271.7 1835.0,270.3 1835.1,268.8 1834.8,267.2 1834.9,265.7 1835.5,264.3 1835.4,262.8 1835.2,261.2 1836.2,259.8 1836.0,258.3 1837.1,256.9 1835.1,255.1 1837.1,253.9 1836.6,252.3 1836.7,250.8 1837.6,249.4 1838.9,248.2 1837.6,246.3 1838.8,245.1 1839.2,243.6 1839.3,242.1 1839.1,240.5 1839.6,239.1 1840.9,237.8 1840.3,236.2 1840.8,234.7 1841.2,233.3 1841.7,231.8 1842.3,230.4 1842.7,229.0 1842.2,227.3 1842.2,225.8 1843.1,224.5 1842.6,222.8 1842.9,221.4 1843.4,219.9 1843.3,218.4 1843.8,216.9 1844.5,215.5 1844.7,214.0 1844.9,212.6 1844.7,211.0 1845.7,209.6 1845.7,208.1 1844.8,206.5 1845.7,205.1 1846.4,203.7 1846.1,202.1 1846.9,200.7 1846.7,199.1 1847.9,197.8 1847.1,196.2 1847.0,194.6 1847.6,193.2 1847.6,191.7 1847.9,190.2 1848.0,188.7 1848.1,187.2 1849.1,185.8 1848.9,184.3 1849.2,182.8 1848.7,181.2 1850.1,179.9 1849.1,178.2 1850.0,176.8 1850.3,175.4 1849.8,173.8 1851.4,172.5 1850.7,170.9 1850.9,169.4 1851.5,167.9 1851.9,166.5 1852.2,165.1 1852.2,163.5 1853.1,162.2 1853.6,160.8 1854.5,159.5 1855.1,158.1 1855.2,156.5 1855.8,155.2 1856.6,153.8 1856.6,152.3 1857.1,150.9 1857.9,149.5 1857.9,148.0 1858.4,146.5 1858.5,145.0 1859.0,143.6 1859.5,142.2 1860.3,140.8 1859.8,139.1 1860.6,137.8 1861.3,136.4 1861.9,135.0 1862.0,133.5 1863.2,133.7 1864.2,135.0 1865.6,135.7 1866.7,135.9 1866.6,134.3 1867.2,132.8 1867.3,131.3 1867.5,129.8 1867.5,128.3 1867.8,126.8 1867.9,125.3 1869.3,124.1 1868.8,122.4 1870.1,121.2 1868.9,119.4 1869.8,118.0 1870.7,116.7 1870.0,115.0 1870.3,113.5 1871.4,112.4 1872.6,111.6 1873.8,110.7 1874.8,109.6 1875.9,108.6 1877.4,107.8 1877.9,106.3 1878.3,104.8 1878.7,103.3 1879.8,102.0 1879.5,103.7 1879.9,105.2 1881.3,106.4 1881.2,108.0 1881.0,109.6 1880.7,111.1 1882.3,112.4 1881.9,114.0 1881.7,115.5 1882.1,117.0 1883.0,117.8 1883.5,117.1 1884.8,116.3 1885.4,114.8 1886.7,114.0 1887.4,112.6 1888.8,111.8 1889.0,109.9 1890.5,109.4 1892.1,108.9 1892.6,107.2 1894.3,106.8 1895.1,105.4 1896.3,104.5 1897.5,104.2 1898.1,105.0 1899.0,106.3 1900.6,107.0 1901.0,108.6 1901.8,109.8 1902.5,111.2 1903.3,112.5 1905.2,112.8 1905.7,114.3 1906.8,115.3 1908.0,116.3 1909.3,116.7 1910.0,115.6 1910.9,114.5 1911.9,113.3 1913.1,112.3 1913.1,110.5 1913.9,110.0 1914.9,111.1 1914.5,112.9 1916.1,113.9 1916.3,115.4 1916.4,117.0 1918.0,118.0 1918.4,119.1 1919.0,119.1 1919.2,117.5 1920.7,116.6 1920.6,114.8 1921.1,113.4 1921.8,112.1 1922.8,111.2 1924.2,112.2 1924.0,113.9 1924.6,115.3 1926.0,116.4 1926.1,117.9 1926.7,119.3 1926.7,121.0 1927.8,122.1 1928.4,123.5 1929.2,124.8 1929.3,126.4 1930.4,127.4 1930.6,125.5 1932.1,124.7 1933.0,123.4 1933.5,122.0 1934.5,120.9 1934.5,120.7 1935.7,121.9 1935.7,123.5 1935.7,125.0 1936.2,126.4 1936.8,127.8 1937.3,129.3 1937.6,130.7 1938.3,132.1 1937.8,133.8 1938.3,135.2 1939.0,136.6 1938.6,138.3 1939.7,138.8 1941.0,138.5 1942.5,138.7 1944.1,138.8 1945.0,139.8 1945.8,141.1 1945.8,142.6 1946.4,144.1 1946.2,145.7 1947.2,147.0 1947.8,148.3 1949.0,149.6 1948.4,151.3 1948.4,152.9 1949.1,154.2 1949.5,155.7 1949.7,157.2 1950.1,158.6 1950.1,160.1 1951.0,161.5 1951.0,163.0 1951.5,164.5 1951.2,166.1 1951.2,167.6 1951.5,169.1 1952.6,170.4 1952.7,171.9 1952.8,173.4 1953.4,174.8 1954.0,176.2 1953.8,177.8 1954.4,179.2 1955.0,180.6 1954.9,182.2 1955.5,183.6 1956.3,184.9 1956.2,186.5 1956.0,188.1 1956.4,189.6 1956.9,191.0 1957.5,192.4 1957.8,193.9 1958.3,195.3 1958.6,196.8 1959.3,198.1 1959.0,199.8 1960.0,201.1 1959.4,202.7 1961.1,203.9 1960.7,205.5 1960.8,207.0 1960.7,208.6 1960.9,210.1 1961.7,211.5 1961.4,213.0 1961.7,214.5 1962.3,215.9 1962.2,217.5 1963.3,218.8 1963.2,220.4 1962.9,221.9 1963.5,223.4 1963.6,224.9 1964.3,226.3 1964.2,227.8 1964.8,229.3 1965.1,230.7 1965.2,232.2 1964.4,233.8 1965.3,235.3 1965.0,236.8 1966.0,238.2 1965.8,239.7 1965.5,241.3 1965.9,242.8 1966.0,244.3 1967.2,245.6 1965.4,247.4 1966.5,248.7 1967.4,250.1 1967.1,251.7 1967.5,253.2 1967.2,254.7 1967.9,256.1 1967.5,257.7 1967.7,259.2 1968.2,260.6 1967.9,262.2 1968.4,263.7 1968.8,265.1 1968.7,266.4 1969.6,265.1 1970.3,263.8 1971.2,262.6 1971.9,261.3 1972.2,261.4 1972.8,262.7 1972.6,264.2 1972.8,265.7 1973.5,267.1 1973.4,268.7 1974.0,270.1 1974.3,271.6 1973.9,273.1 1974.3,274.6 1974.8,276.0 1975.3,277.5 1975.1,279.0 1975.3,280.5 1975.8,282.0 1975.9,283.5 1976.1,285.0 1977.0,286.4 1975.9,288.0 1976.4,289.5 1977.7,290.8 1976.6,292.5 1977.0,294.0 1977.7,295.4 1978.1,296.8 1977.8,298.4 1978.3,299.8 1978.1,301.4 1977.8,302.9 1979.2,304.3 1978.8,305.8 1978.3,307.4 1978.4,308.9 1979.2,310.3 1979.7,311.8 1979.5,313.3 1980.2,314.8 1980.4,316.3 1979.8,317.8 1980.4,319.3 1980.4,320.8 1981.2,322.2 1981.2,323.7 1981.4,325.2 1981.8,326.7 1981.4,328.3 1981.7,329.7 1982.3,331.2 1981.7,332.8 1982.5,334.2 1983.0,335.6 1982.9,337.2 1982.8,338.7 1983.1,340.2 1983.4,341.6 1983.1,343.2 1983.5,344.7 1984.5,346.1 1984.5,347.6 1982.9,349.3 1983.7,350.7 1985.2,352.0 1983.8,353.7 1985.2,355.0 1985.3,356.6 1985.4,358.0 1985.4,359.6 1985.0,361.1 1985.2,362.6 1985.4,364.1 1986.0,365.6 1986.2,367.0 1986.7,368.5 1987.1,370.0 1986.1,371.6 1987.3,373.0 1988.0,374.4 1987.0,376.0 1988.0,377.4 1987.7,379.0 1987.9,380.5 1988.9,381.9 1988.5,383.4 1988.4,384.9 1989.3,386.4 1988.7,387.9 1989.2,389.4 1989.4,390.9 1989.2,392.4 1989.7,393.9 1990.4,395.3 1990.7,396.8 1990.2,398.4 1990.9,399.8 1991.0,401.3 1991.4,402.7 1991.2,404.3 1991.8,405.7 1992.2,407.2 1992.0,408.7 1992.2,410.2 1991.6,411.8 1993.3,413.1 1992.6,414.7 1993.5,416.1 1993.5,417.6 1993.4,419.2 1993.9,420.6 1993.7,422.2 1994.3,423.6 1994.7,425.1 1994.9,426.5 1996.4,427.8 1995.7,429.5 1995.5,431.0 1995.6,432.5 1996.1,434.0 1996.4,435.5 1997.1,436.8 1996.4,438.5 1998.5,439.6 1997.8,441.3 1998.7,442.6 1998.4,444.3 1998.5,445.8 1999.4,447.1 2000.0,448.5 2000.2,450.0 2007.8,521.1 2007.6,523.7 2007.9,526.1 2008.7,528.6 2008.9,531.1 2009.1,533.6 2009.3,536.1 2009.7,538.6 2010.3,541.1 2010.9,543.5 2010.9,546.1 2011.0,548.6 2011.3,551.1 2012.0,553.5 2012.7,556.0 2012.4,558.5 2012.3,561.1 2012.8,563.6 2012.8,566.1 2013.3,568.6 2014.0,571.0 2014.4,573.5 2015.1,576.0 2015.5,578.4 2015.4,581.0 2015.6,583.5 2016.5,585.9 2016.6,588.4 2016.4,591.0 2016.5,593.5 2016.4,596.1 2016.8,598.6 2018.0,600.9 2018.6,603.4 2018.5,606.0 2019.0,608.4 2019.4,610.9 2019.3,613.5 2020.3,615.9 2020.8,618.3 2020.5,620.9 2020.7,623.4 2021.2,625.9 2021.7,628.4 2021.7,630.9 2022.1,633.4 2023.4,635.7 2023.9,638.2 2023.9,640.8 2024.1,643.3 2024.6,645.7 2025.1,648.2 2025.5,650.7 2025.7,653.2 2026.4,655.7 2027.0,658.1 2027.5,660.6 2028.2,663.0 2028.1,665.6 2028.4,668.1 2028.7,670.6 2028.9,673.1 2029.4,675.5 2029.4,678.1 2030.0,680.5 2031.2,682.9 2031.8,685.4 2031.9,687.9 2032.0,690.4 2032.3,692.9 2032.4,695.4 2032.3,698.0 2032.9,700.5 2033.3,702.9 2033.4,705.5 2033.3,708.0 2033.2,710.6 2034.2,713.0 2034.3,715.5 2034.8,718.0 2035.9,720.4 2035.8,722.9 2035.8,725.4 2035.9,728.0 2036.3,730.5 2037.2,732.9 2038.2,735.3 2038.2,737.8 2037.5,740.5 2038.0,742.9 2038.9,745.4 2039.3,747.8 2039.4,750.4 2040.0,752.8 2040.2,755.3 2040.0,757.9 2040.4,760.4 2040.1,762.9 2041.1,765.3 2042.1,767.8 2042.4,770.3 2042.4,772.8 2042.1,775.4 2042.4,777.9 2042.7,780.4 2043.2,782.8 2044.1,785.3 2044.6,787.7 2044.7,790.3 2044.9,792.8 2045.3,795.2 2045.4,797.8 2046.3,800.2 2047.1,802.6 2046.9,805.2 2047.1,807.7 2047.4,810.2 2047.9,812.7 2048.4,815.1 2048.8,817.6 2049.4,820.1 2049.3,822.6 2049.3,825.2 2050.3,827.6 2050.9,830.0 2051.0,832.6 2051.3,835.1 2051.7,837.5 2052.3,840.0 2053.4,842.3 2053.7,844.8 2053.7,847.4 2054.3,849.8 2054.7,852.3 2055.1,854.8 2055.2,857.4 2055.9,859.8 2056.8,862.2 2057.1,864.7 2057.2,867.2 2057.4,869.7 2058.5,872.1 2059.4,874.5 2059.4,877.1 2059.3,879.6 2059.7,882.1 2060.3,884.6 2061.1,887.0 2061.6,889.4 2061.7,892.0 2061.8,894.5 2061.9,897.0 2062.5,899.5 2062.9,902.0 2063.1,904.5 2063.4,907.0 2063.8,909.5 2064.4,911.9 2064.8,914.4 2064.6,917.0 2065.0,919.5 2065.7,921.9 2066.0,924.4 2066.7,926.8 2067.4,929.3 2067.1,931.9 2067.3,934.4 2068.2,936.8 2068.6,939.3 2068.8,941.8 2069.3,944.3 2069.6,946.8 2070.1,949.2 2070.7,951.7 2070.8,954.2 2071.4,956.7 2071.9,959.1 2071.9,961.7 2072.6,964.1 2072.6,966.7 2072.6,969.2 2072.8,971.7 2073.4,974.2 2074.2,976.6 2074.4,979.1 2074.4,981.7 2074.4,984.2 2075.0,986.6 2076.0,989.0 2076.3,991.5 2076.3,994.1 2076.5,996.6 2077.4,999.0 2077.8,1001.5 2077.8,1004.0 2078.3,1006.5 2078.8,1009.0 2078.9,1011.5 2079.7,1013.9 2080.7,1016.3 2080.6,1018.9 2080.6,1021.4 2081.3,1023.9 2082.1,1026.3 2082.6,1028.7 2082.5,1031.3 2082.5,1033.9 2083.3,1036.3 2083.4,1038.8 2083.7,1041.3 2084.7,1043.7 2085.0,1046.2 2085.5,1048.7 2086.2,1051.1 2086.3,1053.6 2086.5,1056.1 2086.9,1058.6 2087.2,1061.1 2088.1,1063.5 2088.4,1066.0 2088.1,1068.6 2088.8,1071.1 2089.5,1073.5 2089.8,1076.0 2090.1,1078.5 2090.2,1081.0 2090.6,1083.5 2091.2,1086.0 2092.0,1088.4 2091.9,1091.0 2092.0,1093.5 2093.0,1095.9 2092.9,1098.4 2092.7,1101.1 2093.6,1103.5 2094.4,1105.8 2095.2,1108.2 2096.2,1110.6 2096.9,1113.0 2097.3,1115.5 2097.6,1118.0 2098.3,1120.4 2098.9,1122.9 2099.3,1125.4 2099.9,1127.8 2106.8,1161.9 2107.4,1163.4 2107.8,1164.9 2108.1,1166.5 2108.5,1168.1 2108.7,1169.7 2108.4,1171.4 2108.9,1172.9 2109.4,1174.4 2110.6,1175.8 2111.0,1177.4 2110.4,1179.2 2110.9,1180.7 2111.6,1182.2 2111.4,1183.9 2112.3,1185.3 2111.3,1187.2 2112.8,1188.5 2112.4,1190.2 2113.0,1191.7 2113.0,1193.4 2112.9,1195.0 2113.0,1196.6 2113.5,1198.2 2113.8,1199.7 2114.9,1201.2 2114.2,1202.9 2115.4,1204.4 2115.1,1206.0 2115.6,1207.6 2114.6,1209.3 2114.9,1210.9 2116.5,1212.3 2116.5,1214.0 2116.8,1215.5 2116.6,1217.2 2116.6,1218.8 2116.7,1220.4 2117.9,1221.9 2117.4,1223.6 2117.6,1225.2 2118.6,1226.6 2118.7,1228.2 2119.4,1229.7 2119.7,1231.3 2120.7,1232.7 2120.7,1234.3 2121.5,1235.7 2123.1,1236.1 2124.5,1237.0 2126.2,1237.1 2127.1,1238.3 2127.3,1239.9 2127.1,1241.5 2128.2,1243.0 2126.9,1244.7 2127.7,1246.3 2128.3,1247.9 2127.9,1249.5 2127.1,1251.2 2128.1,1252.7 2128.2,1254.3 2128.2,1255.9 2128.0,1257.5 2127.7,1259.2 2128.0,1260.8 2128.2,1262.3 2128.7,1263.9 2128.8,1265.5 2129.2,1267.1 2129.3,1268.7 2129.7,1270.3 2129.5,1271.9 2128.6,1273.6 2129.2,1275.2 2129.6,1276.7 2130.4,1278.2 2130.5,1279.8 2131.2,1281.3 2131.9,1282.8 2131.4,1284.6 2131.8,1286.1 2131.8,1287.8 2133.4,1289.1 2132.7,1290.8 2133.1,1292.4 2132.9,1294.0 2134.4,1295.4 2134.2,1297.1 2134.7,1298.6 2134.5,1300.3 2134.5,1301.9 2134.4,1303.5 2134.8,1305.1 2135.1,1306.7 2135.3,1308.3 2136.1,1309.8 2135.9,1311.4 2135.6,1313.1 2137.0,1314.5 2137.4,1316.0 2136.9,1317.8 2138.2,1319.0 2138.9,1320.5 2139.0,1322.2 2139.5,1323.7 2139.7,1325.3 2141.1,1326.7 2141.0,1328.3 2141.2,1329.9 2141.1,1331.6 2140.8,1333.2 2141.9,1334.7 2140.8,1336.4 2141.4,1338.0 2142.5,1339.5 2140.8,1341.3 2141.4,1342.8 2142.5,1344.3 2142.3,1346.0 2143.7,1347.3 2142.6,1349.2 2143.8,1350.5 2144.7,1352.0 2144.5,1353.7 2145.6,1355.0 2145.7,1356.7 2145.8,1358.3 2145.5,1360.0 2146.2,1361.5 2146.7,1363.1 2146.4,1364.7 2147.4,1366.2 2147.7,1367.8 2147.4,1369.5 2148.3,1370.9 2148.7,1372.5 2148.4,1374.2 2149.6,1375.5 2149.7,1377.2 2150.5,1378.6 2151.4,1380.0 2151.2,1381.7 2152.0,1383.1 2151.7,1384.8 2152.5,1386.3 2152.3,1388.0 2152.5,1389.6 2153.2,1391.1 2153.1,1392.7 2153.3,1394.3 2153.8,1395.9 2153.5,1397.5 2153.8,1399.1 2154.3,1400.7 2154.0,1402.3 2153.8,1404.0 2154.2,1403.8 2154.8,1402.4 2154.8,1400.7 2155.3,1399.2 2156.0,1397.7 2156.4,1396.2 2157.4,1395.7 2157.1,1397.4 2156.3,1399.1 2157.5,1400.6 2157.8,1402.2 2158.4,1403.7 2157.6,1405.4 2159.7,1406.8 2159.2,1408.5 2158.8,1410.1 2158.4,1411.8 2157.6,1413.5 2158.7,1415.0 2159.0,1416.6 2160.9,1418.0 2158.7,1419.8 2159.7,1421.3 2160.2,1422.3 2161.5,1423.1 2162.5,1424.1 2163.9,1424.9 2164.2,1426.5 2163.9,1428.2 2164.1,1429.8 2163.3,1431.5 2164.5,1433.0 2165.0,1434.5 2164.5,1436.2 2165.5,1437.7 2165.1,1439.4 2164.9,1441.0 2165.1,1442.6 2165.3,1444.2 2165.4,1445.8 2166.7,1447.3 2167.1,1448.8 2165.9,1450.6 2167.1,1452.1 2165.9,1453.8 2166.6,1455.3 2166.6,1457.0 2166.5,1458.6 2167.0,1460.2 2166.7,1461.8 2167.0,1463.4 2167.2,1465.0 2167.3,1466.6 2168.4,1468.1 2168.2,1469.4 2168.8,1468.7 2169.1,1467.0 2170.0,1465.7 2171.3,1464.5 2171.2,1462.7 2171.1,1460.9 2172.9,1459.9 2172.8,1458.2 2173.5,1457.7 2173.7,1458.6 2174.5,1460.1 2174.7,1461.7 2174.4,1463.3 2174.7,1464.9 2175.9,1466.3 2175.9,1468.0 2175.8,1469.6 2175.7,1471.2 2176.1,1472.8 2176.9,1474.3 2177.4,1475.7 2177.2,1477.5 2178.9,1476.4 2180.4,1475.6 2182.1,1475.9 2183.6,1476.4 2183.3,1478.3 2183.0,1480.0 2183.9,1481.5 2183.9,1483.1 2184.0,1484.7 2184.1,1486.3 2185.2,1487.8 2184.9,1489.4 2185.6,1491.0 2184.9,1492.7 2185.5,1494.2 2186.4,1495.5 2187.7,1495.2 2187.7,1493.3 2188.1,1491.8 2189.2,1490.5 2190.4,1489.4 2190.9,1487.5 2191.5,1489.1 2191.2,1490.8 2192.5,1492.1 2192.8,1493.7 2193.3,1495.2 2193.7,1496.9 2194.7,1496.3 2195.8,1495.0 2196.1,1493.3 2196.9,1491.9 2197.7,1490.5 2198.0,1488.9 2198.4,1487.2 2198.9,1485.1 2201.2,1485.6 2202.7,1485.1 2204.2,1484.1 2206.0,1484.1 2205.7,1486.2 2206.2,1487.8 2205.4,1489.5 2206.1,1491.0 2207.2,1492.5 2206.6,1494.2 2207.2,1495.7 2208.4,1497.2 2207.7,1498.9 2208.4,1500.4 2208.3,1502.1 2207.5,1503.8 2207.9,1505.4 2209.5,1506.7 2210.4,1507.8 2209.5,1505.6 2210.1,1504.1 2210.7,1502.6 2210.3,1500.9 2211.6,1499.5 2211.5,1497.8 2212.5,1496.4 2212.0,1494.6 2212.6,1494.1 2213.8,1495.1 2214.9,1496.3 2215.7,1497.7 2216.6,1499.1 2218.0,1499.6 2219.5,1498.6 2221.1,1498.5 2222.9,1498.6 2222.6,1500.7 2223.6,1502.0 2224.1,1503.5 2224.2,1505.2 2224.5,1506.9 2226.4,1507.8 2226.4,1509.6 2227.3,1510.7 2228.0,1510.4 2227.7,1508.5 2227.8,1506.8 2228.7,1505.5 2230.3,1504.4 2230.7,1502.8 2231.5,1501.6 2232.3,1500.8 2233.8,1501.6 2235.2,1502.5 2237.1,1501.9 2238.5,1502.8 2240.2,1503.4 2241.0,1501.5 2242.7,1501.0 2243.2,1499.3 2244.4,1498.6 2245.2,1499.9 2246.3,1501.1 2247.3,1502.3 2249.1,1503.0 2249.4,1504.8 2249.8,1507.1 2251.2,1505.8 2251.8,1504.2 2252.5,1502.7 2254.5,1502.3 2255.0,1500.6 2255.9,1499.3 2257.3,1498.4 2257.9,1499.8 2258.5,1501.3 2258.7,1502.9 2258.9,1504.5 2260.5,1505.7 2259.6,1507.7 2260.1,1509.2 2260.8,1510.8 2261.5,1510.2 2263.0,1509.6 2264.0,1508.4 2264.4,1506.6 2265.3,1505.3 2266.6,1504.3 2267.9,1503.2 2268.9,1504.1 2270.0,1505.3 2271.1,1506.5 2272.2,1507.8 2272.3,1509.6 2273.5,1509.8 2273.6,1507.8 2275.2,1506.9 2276.4,1505.7 2276.5,1503.9 2277.6,1502.7 2278.0,1501.1 2278.4,1499.5 2279.5,1498.1 2280.2,1499.9 2280.9,1501.3 2281.6,1502.8 2282.6,1504.1 2282.7,1505.8 2283.5,1507.2 2283.6,1509.0 2284.6,1510.3 2284.8,1512.1 2287.4,1512.3 2287.6,1514.1 2288.5,1515.4 2289.3,1516.9 2289.8,1516.1 2290.2,1514.7 2291.4,1513.5 2293.5,1512.8 2293.7,1511.1 2293.9,1509.4 2294.9,1508.2 2296.3,1507.3 2297.7,1506.5 2298.4,1504.8 2300.0,1504.8 2301.3,1505.3 2302.1,1506.7 2302.4,1508.5 2303.6,1509.7 2305.3,1510.4 2306.6,1511.4 2306.6,1513.4 2307.7,1514.8 2307.7,1513.3 2308.7,1512.3 2309.7,1511.0 2310.9,1509.7 2311.2,1508.1 2311.8,1506.6 2312.7,1505.3 2313.9,1506.7 2314.7,1508.2 2316.0,1509.1 2316.8,1510.6 2318.6,1511.2 2318.9,1513.0 2320.4,1513.8 2321.4,1515.3 2322.7,1513.8 2324.1,1513.1 2325.3,1511.9 2327.0,1511.8 2327.9,1512.6 2329.4,1513.3 2330.4,1514.6 2331.4,1515.7 2332.3,1515.0 2332.6,1513.4 2332.8,1511.7 2333.4,1510.2 2334.8,1509.1 2335.5,1508.2 2335.8,1509.6 2337.0,1510.9 2336.9,1512.6 2337.6,1514.1 2338.2,1514.2 2338.7,1512.7 2339.9,1511.6 2340.7,1510.2 2341.9,1509.0 2342.8,1507.9 2343.9,1509.1 2344.7,1510.5 2345.3,1512.3 2346.8,1513.3 2348.8,1513.2 2350.2,1514.0 2352.1,1513.3 2353.4,1514.5 2355.1,1513.8 2356.3,1514.0 2357.2,1512.6 2359.1,1512.6 2360.9,1512.4 2361.7,1510.8 2362.9,1510.7 2363.3,1512.2 2364.2,1513.6 2365.8,1514.5 2366.5,1515.8 2367.8,1516.4 2369.4,1516.6 2371.0,1517.0 2372.4,1516.2 2374.1,1516.8 2375.3,1515.5 2376.7,1514.7"/>
</g>
<text class="tick" transform="translate(303.1,1669.1) scale(1,1.045)" text-anchor="end">0.00</text>
<text class="tick" transform="translate(303.1,1449.0) scale(1,1.045)" text-anchor="end">0.05</text>
<text class="tick" transform="translate(303.1,1228.8) scale(1,1.045)" text-anchor="end">0.10</text>
<text class="tick" transform="translate(303.1,1008.7) scale(1,1.045)" text-anchor="end">0.15</text>
<text class="tick" transform="translate(303.1,788.5) scale(1,1.045)" text-anchor="end">0.20</text>
<text class="tick" transform="translate(303.1,568.4) scale(1,1.045)" text-anchor="end">0.25</text>
<text class="tick" transform="translate(303.1,348.2) scale(1,1.045)" text-anchor="end">0.30</text>
<text class="tick" transform="translate(303.1,128.1) scale(1,1.045)" text-anchor="end">0.35</text>
<text class="xtick" transform="translate(356.6,1755.9) scale(1,1.045)" text-anchor="middle">1000</text>
<text class="xtick" transform="translate(693.2,1755.9) scale(1,1.045)" text-anchor="middle">1500</text>
<text class="xtick" transform="translate(1029.9,1755.9) scale(1,1.045)" text-anchor="middle">2000</text>
<text class="xtick" transform="translate(1366.6,1755.9) scale(1,1.045)" text-anchor="middle">2500</text>
<text class="xtick" transform="translate(1703.2,1755.9) scale(1,1.045)" text-anchor="middle">3000</text>
<text class="xtick" transform="translate(2039.8,1755.9) scale(1,1.045)" text-anchor="middle">3500</text>
<text class="xtick" transform="translate(2376.5,1755.9) scale(1,1.045)" text-anchor="middle">4000</text>
<text class="xt" transform="translate(1255.5,1875.7)" text-anchor="middle">Wavelength (cm<tspan font-size="55" dy="-28.4">−1</tspan><tspan dy="28.4">)</tspan></text>
<text class="yt" transform="translate(73.0,802.2) rotate(-90)" text-anchor="middle">Absorbance (%)</text>
<rect x="459.2" y="167.5" width="1196.1" height="220.6" fill="#fff" stroke="#000" stroke-width="3.6"/>
<path d="M469.3,225.5H658.2" stroke="#000" stroke-width="3" stroke-linecap="round"/>
<path d="M469.3,329.5H658.2" stroke="#ff0000" stroke-width="3" stroke-linecap="round"/>
<text class="leg" transform="translate(681.5,254.8)" text-anchor="start">Deionized water</text>
<text class="leg" transform="translate(681.5,358.2)" text-anchor="start">Permeate (0.07 wt.% AG)</text>
</svg>
</body>
</html>
